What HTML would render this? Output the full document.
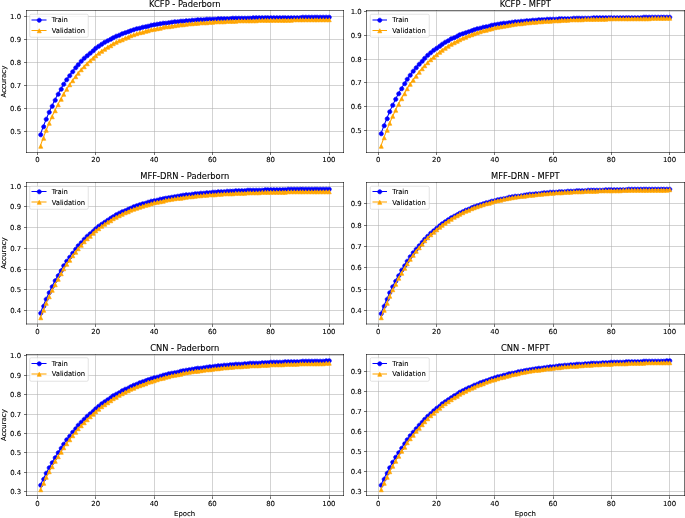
<!DOCTYPE html>
<html><head><meta charset="utf-8"><title>Accuracy curves</title>
<style>html,body{margin:0;padding:0;background:#fff}svg{display:block}</style></head>
<body>
<svg width="685" height="518" viewBox="0 0 1370 1036" font-family="'DejaVu Sans', 'Liberation Sans', sans-serif"><style>text{stroke:#000;stroke-width:0.2}</style>
<path d="M75 305L75 21" fill="none" stroke="#b0b0b0" stroke-width="1.11" stroke-linecap="square" stroke-linejoin="round"/>
<defs><path id="m1" d="M0 0L0 5" fill="#000000" stroke="#000000" stroke-width="1.11" stroke-linejoin="round"/></defs>
<g><use href="#m1" x="75" y="305"/></g>
<text x="70.51" y="324.42" font-size="13.89" fill="#000000">0</text>
<path d="M191 305L191 21" fill="none" stroke="#b0b0b0" stroke-width="1.11" stroke-linecap="square" stroke-linejoin="round"/>
<g><use href="#m1" x="191" y="305"/></g>
<text x="182.72" y="324.42" font-size="13.89" fill="#000000">20</text>
<path d="M309 305L309 21" fill="none" stroke="#b0b0b0" stroke-width="1.11" stroke-linecap="square" stroke-linejoin="round"/>
<g><use href="#m1" x="309" y="305"/></g>
<text x="299.3" y="324.42" font-size="13.89" fill="#000000">40</text>
<path d="M425 305L425 21" fill="none" stroke="#b0b0b0" stroke-width="1.11" stroke-linecap="square" stroke-linejoin="round"/>
<g><use href="#m1" x="425" y="305"/></g>
<text x="415.82" y="324.42" font-size="13.89" fill="#000000">60</text>
<path d="M541 305L541 21" fill="none" stroke="#b0b0b0" stroke-width="1.11" stroke-linecap="square" stroke-linejoin="round"/>
<g><use href="#m1" x="541" y="305"/></g>
<text x="532.41" y="324.42" font-size="13.89" fill="#000000">80</text>
<path d="M659 305L659 21" fill="none" stroke="#b0b0b0" stroke-width="1.11" stroke-linecap="square" stroke-linejoin="round"/>
<g><use href="#m1" x="659" y="305"/></g>
<text x="644.62" y="324.42" font-size="13.89" fill="#000000">100</text>
<path d="M53 263L687 263" fill="none" stroke="#b0b0b0" stroke-width="1.11" stroke-linecap="square" stroke-linejoin="round"/>
<defs><path id="m7" d="M0 0L-5 0" fill="#000000" stroke="#000000" stroke-width="1.11" stroke-linejoin="round"/></defs>
<g><use href="#m7" x="53" y="263"/></g>
<text x="20.26" y="268.52" font-size="13.89" fill="#000000">0.5</text>
<path d="M53 217L687 217" fill="none" stroke="#b0b0b0" stroke-width="1.11" stroke-linecap="square" stroke-linejoin="round"/>
<g><use href="#m7" x="53" y="217"/></g>
<text x="20.14" y="222.54" font-size="13.89" fill="#000000">0.6</text>
<path d="M53 171L687 171" fill="none" stroke="#b0b0b0" stroke-width="1.11" stroke-linecap="square" stroke-linejoin="round"/>
<g><use href="#m7" x="53" y="171"/></g>
<text x="20.26" y="176.56" font-size="13.89" fill="#000000">0.7</text>
<path d="M53 125L687 125" fill="none" stroke="#b0b0b0" stroke-width="1.11" stroke-linecap="square" stroke-linejoin="round"/>
<g><use href="#m7" x="53" y="125"/></g>
<text x="20.14" y="130.58" font-size="13.89" fill="#000000">0.8</text>
<path d="M53 79L687 79" fill="none" stroke="#b0b0b0" stroke-width="1.11" stroke-linecap="square" stroke-linejoin="round"/>
<g><use href="#m7" x="53" y="79"/></g>
<text x="20.14" y="84.6" font-size="13.89" fill="#000000">0.9</text>
<path d="M53 33L687 33" fill="none" stroke="#b0b0b0" stroke-width="1.11" stroke-linecap="square" stroke-linejoin="round"/>
<g><use href="#m7" x="53" y="33"/></g>
<text x="20.14" y="38.62" font-size="13.89" fill="#000000">1.0</text>
<text x="11.58" y="194.75" font-size="13.89" fill="#000000" transform="rotate(-90 11.58 194.75)">Accuracy</text>
<path d="M80.71 268.97L86.54 253.09L92.37 238.28L98.2 224.47L104.03 211.6L109.86 199.59L115.69 188.4L121.52 177.97L127.35 168.24L133.18 159.16L139.01 150.7L144.84 142.82L150.66 135.46L156.49 128.61L162.32 122.21L168.15 116.25L173.98 110.7L179.81 105.51L185.64 100.68L191.47 96.18L197.3 91.98L203.13 88.06L208.96 84.41L214.79 81L220.62 77.83L226.44 74.87L232.27 72.11L238.1 69.53L243.93 67.13L249.76 64.9L255.59 62.81L261.42 60.87L267.25 59.05L273.08 57.36L278.91 55.79L284.74 54.32L290.57 52.95L296.39 51.67L302.22 50.48L308.05 49.36L313.88 48.33L319.71 47.36L325.54 46.46L331.37 45.62L337.2 44.84L343.03 44.11L348.86 43.43L354.69 42.79L360.52 42.2L366.35 41.65L372.17 41.14L378 40.66L383.83 40.21L389.66 39.79L395.49 39.4L401.32 39.04L407.15 38.7L412.98 38.39L418.81 38.1L424.64 37.82L430.47 37.57L436.3 37.33L442.13 37.11L447.95 36.9L453.78 36.71L459.61 36.53L465.44 36.36L471.27 36.2L477.1 36.06L482.93 35.92L488.76 35.79L494.59 35.67L500.42 35.56L506.25 35.46L512.08 35.37L517.9 35.28L523.73 35.19L529.56 35.11L535.39 35.04L541.22 34.97L547.05 34.91L552.88 34.85L558.71 34.8L564.54 34.75L570.37 34.7L576.2 34.66L582.03 34.61L587.86 34.58L593.68 34.54L599.51 34.51L605.34 34.47L611.17 34.45L617 34.42L622.83 34.39L628.66 34.37L634.49 34.35L640.32 34.33L646.15 34.31L651.98 34.29L657.81 34.27" fill="none" stroke="#0000ff" stroke-width="2.08" stroke-linecap="square" stroke-linejoin="round"/>
<defs><path id="m13" d="M0 4.17C1.11 4.17 2.16 3.73 2.95 2.95C3.73 2.16 4.17 1.11 4.17 0C4.17 -1.11 3.73 -2.16 2.95 -2.95C2.16 -3.73 1.11 -4.17 0 -4.17C-1.11 -4.17 -2.16 -3.73 -2.95 -2.95C-3.73 -2.16 -4.17 -1.11 -4.17 0C-4.17 1.11 -3.73 2.16 -2.95 2.95C-2.16 3.73 -1.11 4.17 0 4.17Z" fill="#0000ff" stroke="#0000ff" stroke-width="1.39" stroke-linejoin="round"/></defs>
<g><use href="#m13" x="81.5" y="269.5"/><use href="#m13" x="87.5" y="253.5"/><use href="#m13" x="92.5" y="238.5"/><use href="#m13" x="98.5" y="224.5"/><use href="#m13" x="104.5" y="212.5"/><use href="#m13" x="110.5" y="200.5"/><use href="#m13" x="116.5" y="188.5"/><use href="#m13" x="122.5" y="178.5"/><use href="#m13" x="127.5" y="168.5"/><use href="#m13" x="133.5" y="159.5"/><use href="#m13" x="139.5" y="151.5"/><use href="#m13" x="145.5" y="143.5"/><use href="#m13" x="151.5" y="135.5"/><use href="#m13" x="156.5" y="129.5"/><use href="#m13" x="162.5" y="122.5"/><use href="#m13" x="168.5" y="116.5"/><use href="#m13" x="174.5" y="111.5"/><use href="#m13" x="180.5" y="106.5"/><use href="#m13" x="186.5" y="101.5"/><use href="#m13" x="191.5" y="96.5"/><use href="#m13" x="197.5" y="92.5"/><use href="#m13" x="203.5" y="88.5"/><use href="#m13" x="209.5" y="84.5"/><use href="#m13" x="215.5" y="81.5"/><use href="#m13" x="221.5" y="78.5"/><use href="#m13" x="226.5" y="75.5"/><use href="#m13" x="232.5" y="72.5"/><use href="#m13" x="238.5" y="70.5"/><use href="#m13" x="244.5" y="67.5"/><use href="#m13" x="250.5" y="65.5"/><use href="#m13" x="256.5" y="63.5"/><use href="#m13" x="261.5" y="61.5"/><use href="#m13" x="267.5" y="59.5"/><use href="#m13" x="273.5" y="57.5"/><use href="#m13" x="279.5" y="56.5"/><use href="#m13" x="285.5" y="54.5"/><use href="#m13" x="291.5" y="53.5"/><use href="#m13" x="296.5" y="52.5"/><use href="#m13" x="302.5" y="50.5"/><use href="#m13" x="308.5" y="49.5"/><use href="#m13" x="314.5" y="48.5"/><use href="#m13" x="320.5" y="47.5"/><use href="#m13" x="326.5" y="46.5"/><use href="#m13" x="331.5" y="46.5"/><use href="#m13" x="337.5" y="45.5"/><use href="#m13" x="343.5" y="44.5"/><use href="#m13" x="349.5" y="43.5"/><use href="#m13" x="355.5" y="43.5"/><use href="#m13" x="361.5" y="42.5"/><use href="#m13" x="366.5" y="42.5"/><use href="#m13" x="372.5" y="41.5"/><use href="#m13" x="378.5" y="41.5"/><use href="#m13" x="384.5" y="40.5"/><use href="#m13" x="390.5" y="40.5"/><use href="#m13" x="395.5" y="39.5"/><use href="#m13" x="401.5" y="39.5"/><use href="#m13" x="407.5" y="39.5"/><use href="#m13" x="413.5" y="38.5"/><use href="#m13" x="419.5" y="38.5"/><use href="#m13" x="425.5" y="38.5"/><use href="#m13" x="430.5" y="38.5"/><use href="#m13" x="436.5" y="37.5"/><use href="#m13" x="442.5" y="37.5"/><use href="#m13" x="448.5" y="37.5"/><use href="#m13" x="454.5" y="37.5"/><use href="#m13" x="460.5" y="37.5"/><use href="#m13" x="465.5" y="36.5"/><use href="#m13" x="471.5" y="36.5"/><use href="#m13" x="477.5" y="36.5"/><use href="#m13" x="483.5" y="36.5"/><use href="#m13" x="489.5" y="36.5"/><use href="#m13" x="495.5" y="36.5"/><use href="#m13" x="500.5" y="36.5"/><use href="#m13" x="506.5" y="35.5"/><use href="#m13" x="512.5" y="35.5"/><use href="#m13" x="518.5" y="35.5"/><use href="#m13" x="524.5" y="35.5"/><use href="#m13" x="530.5" y="35.5"/><use href="#m13" x="535.5" y="35.5"/><use href="#m13" x="541.5" y="35.5"/><use href="#m13" x="547.5" y="35.5"/><use href="#m13" x="553.5" y="35.5"/><use href="#m13" x="559.5" y="35.5"/><use href="#m13" x="565.5" y="35.5"/><use href="#m13" x="570.5" y="35.5"/><use href="#m13" x="576.5" y="35.5"/><use href="#m13" x="582.5" y="35.5"/><use href="#m13" x="588.5" y="35.5"/><use href="#m13" x="594.5" y="35.5"/><use href="#m13" x="600.5" y="35.5"/><use href="#m13" x="605.5" y="34.5"/><use href="#m13" x="611.5" y="34.5"/><use href="#m13" x="617.5" y="34.5"/><use href="#m13" x="623.5" y="34.5"/><use href="#m13" x="629.5" y="34.5"/><use href="#m13" x="634.5" y="34.5"/><use href="#m13" x="640.5" y="34.5"/><use href="#m13" x="646.5" y="34.5"/><use href="#m13" x="652.5" y="34.5"/><use href="#m13" x="658.5" y="34.5"/></g>
<path d="M80.71 291.73L86.54 275.56L92.37 260.43L98.2 246.27L104.03 233L109.86 220.59L115.69 208.97L121.52 198.09L127.35 187.91L133.18 178.37L139.01 169.45L144.84 161.09L150.66 153.27L156.49 145.95L162.32 139.1L168.15 132.68L173.98 126.68L179.81 121.05L185.64 115.79L191.47 110.86L197.3 106.25L203.13 101.93L208.96 97.89L214.79 94.1L220.62 90.56L226.44 87.25L232.27 84.14L238.1 81.24L243.93 78.52L249.76 75.97L255.59 73.58L261.42 71.35L267.25 69.26L273.08 67.31L278.91 65.48L284.74 63.76L290.57 62.16L296.39 60.66L302.22 59.25L308.05 57.93L313.88 56.7L319.71 55.55L325.54 54.47L331.37 53.46L337.2 52.51L343.03 51.62L348.86 50.8L354.69 50.02L360.52 49.29L366.35 48.61L372.17 47.98L378 47.38L383.83 46.82L389.66 46.3L395.49 45.81L401.32 45.35L407.15 44.92L412.98 44.52L418.81 44.15L424.64 43.79L430.47 43.47L436.3 43.16L442.13 42.87L447.95 42.6L453.78 42.35L459.61 42.11L465.44 41.89L471.27 41.68L477.1 41.49L482.93 41.3L488.76 41.13L494.59 40.98L500.42 40.83L506.25 40.69L512.08 40.56L517.9 40.43L523.73 40.32L529.56 40.21L535.39 40.11L541.22 40.02L547.05 39.93L552.88 39.85L558.71 39.77L564.54 39.7L570.37 39.63L576.2 39.57L582.03 39.51L587.86 39.45L593.68 39.4L599.51 39.35L605.34 39.31L611.17 39.26L617 39.22L622.83 39.19L628.66 39.15L634.49 39.12L640.32 39.09L646.15 39.06L651.98 39.03L657.81 39.01" fill="none" stroke="#ffa500" stroke-width="2.08" stroke-linecap="square" stroke-linejoin="round"/>
<defs><path id="m14" d="M0 -4L-4 4L4 4Z" fill="#ffa500" stroke="#ffa500" stroke-width="1.39"/></defs>
<g><use href="#m14" x="81.5" y="292.5"/><use href="#m14" x="87.5" y="276.5"/><use href="#m14" x="92.5" y="260.5"/><use href="#m14" x="98.5" y="246.5"/><use href="#m14" x="104.5" y="233.5"/><use href="#m14" x="110.5" y="221.5"/><use href="#m14" x="116.5" y="209.5"/><use href="#m14" x="122.5" y="198.5"/><use href="#m14" x="127.5" y="188.5"/><use href="#m14" x="133.5" y="178.5"/><use href="#m14" x="139.5" y="169.5"/><use href="#m14" x="145.5" y="161.5"/><use href="#m14" x="151.5" y="153.5"/><use href="#m14" x="156.5" y="146.5"/><use href="#m14" x="162.5" y="139.5"/><use href="#m14" x="168.5" y="133.5"/><use href="#m14" x="174.5" y="127.5"/><use href="#m14" x="180.5" y="121.5"/><use href="#m14" x="186.5" y="116.5"/><use href="#m14" x="191.5" y="111.5"/><use href="#m14" x="197.5" y="106.5"/><use href="#m14" x="203.5" y="102.5"/><use href="#m14" x="209.5" y="98.5"/><use href="#m14" x="215.5" y="94.5"/><use href="#m14" x="221.5" y="91.5"/><use href="#m14" x="226.5" y="87.5"/><use href="#m14" x="232.5" y="84.5"/><use href="#m14" x="238.5" y="81.5"/><use href="#m14" x="244.5" y="79.5"/><use href="#m14" x="250.5" y="76.5"/><use href="#m14" x="256.5" y="74.5"/><use href="#m14" x="261.5" y="71.5"/><use href="#m14" x="267.5" y="69.5"/><use href="#m14" x="273.5" y="67.5"/><use href="#m14" x="279.5" y="65.5"/><use href="#m14" x="285.5" y="64.5"/><use href="#m14" x="291.5" y="62.5"/><use href="#m14" x="296.5" y="61.5"/><use href="#m14" x="302.5" y="59.5"/><use href="#m14" x="308.5" y="58.5"/><use href="#m14" x="314.5" y="57.5"/><use href="#m14" x="320.5" y="56.5"/><use href="#m14" x="326.5" y="54.5"/><use href="#m14" x="331.5" y="53.5"/><use href="#m14" x="337.5" y="53.5"/><use href="#m14" x="343.5" y="52.5"/><use href="#m14" x="349.5" y="51.5"/><use href="#m14" x="355.5" y="50.5"/><use href="#m14" x="361.5" y="49.5"/><use href="#m14" x="366.5" y="49.5"/><use href="#m14" x="372.5" y="48.5"/><use href="#m14" x="378.5" y="47.5"/><use href="#m14" x="384.5" y="47.5"/><use href="#m14" x="390.5" y="46.5"/><use href="#m14" x="395.5" y="46.5"/><use href="#m14" x="401.5" y="45.5"/><use href="#m14" x="407.5" y="45.5"/><use href="#m14" x="413.5" y="45.5"/><use href="#m14" x="419.5" y="44.5"/><use href="#m14" x="425.5" y="44.5"/><use href="#m14" x="430.5" y="43.5"/><use href="#m14" x="436.5" y="43.5"/><use href="#m14" x="442.5" y="43.5"/><use href="#m14" x="448.5" y="43.5"/><use href="#m14" x="454.5" y="42.5"/><use href="#m14" x="460.5" y="42.5"/><use href="#m14" x="465.5" y="42.5"/><use href="#m14" x="471.5" y="42.5"/><use href="#m14" x="477.5" y="41.5"/><use href="#m14" x="483.5" y="41.5"/><use href="#m14" x="489.5" y="41.5"/><use href="#m14" x="495.5" y="41.5"/><use href="#m14" x="500.5" y="41.5"/><use href="#m14" x="506.5" y="41.5"/><use href="#m14" x="512.5" y="41.5"/><use href="#m14" x="518.5" y="40.5"/><use href="#m14" x="524.5" y="40.5"/><use href="#m14" x="530.5" y="40.5"/><use href="#m14" x="535.5" y="40.5"/><use href="#m14" x="541.5" y="40.5"/><use href="#m14" x="547.5" y="40.5"/><use href="#m14" x="553.5" y="40.5"/><use href="#m14" x="559.5" y="40.5"/><use href="#m14" x="565.5" y="40.5"/><use href="#m14" x="570.5" y="40.5"/><use href="#m14" x="576.5" y="40.5"/><use href="#m14" x="582.5" y="40.5"/><use href="#m14" x="588.5" y="39.5"/><use href="#m14" x="594.5" y="39.5"/><use href="#m14" x="600.5" y="39.5"/><use href="#m14" x="605.5" y="39.5"/><use href="#m14" x="611.5" y="39.5"/><use href="#m14" x="617.5" y="39.5"/><use href="#m14" x="623.5" y="39.5"/><use href="#m14" x="629.5" y="39.5"/><use href="#m14" x="634.5" y="39.5"/><use href="#m14" x="640.5" y="39.5"/><use href="#m14" x="646.5" y="39.5"/><use href="#m14" x="652.5" y="39.5"/><use href="#m14" x="658.5" y="39.5"/></g>
<path d="M53 305L53 21" fill="none" stroke="#000000" stroke-width="1.11" stroke-linecap="square"/>
<path d="M687 305L687 21" fill="none" stroke="#000000" stroke-width="1.11" stroke-linecap="square"/>
<path d="M53 305L687 305" fill="none" stroke="#000000" stroke-width="1.11" stroke-linecap="square"/>
<path d="M53 21L687 21" fill="none" stroke="#000000" stroke-width="1.11" stroke-linecap="square"/>
<text x="298.07" y="14.57" font-size="16.67" fill="#000000">KCFP - Paderborn</text>
<rect x="59.5" y="28.5" width="117" height="46" rx="2.78" fill="#ffffff" fill-opacity="0.8" stroke="#cccccc" stroke-width="1.39" stroke-opacity="0.8"/>
<path d="M64 40L78 40L92 40" fill="none" stroke="#0000ff" stroke-width="2.08" stroke-linecap="square" stroke-linejoin="round"/>
<g><use href="#m13" x="78.5" y="40.5"/></g>
<text x="103.25" y="44.9" font-size="13.89" fill="#000000" textLength="32.56" lengthAdjust="spacingAndGlyphs">Train</text>
<path d="M64 61L78 61L92 61" fill="none" stroke="#ffa500" stroke-width="2.08" stroke-linecap="square" stroke-linejoin="round"/>
<g><use href="#m14" x="78.5" y="61.5"/></g>
<text x="103.25" y="65.84" font-size="13.89" fill="#000000" textLength="66.95" lengthAdjust="spacingAndGlyphs">Validation</text>
<path d="M757 305L757 21" fill="none" stroke="#b0b0b0" stroke-width="1.11" stroke-linecap="square" stroke-linejoin="round"/>
<g><use href="#m1" x="757" y="305"/></g>
<text x="751.75" y="324.42" font-size="13.89" fill="#000000">0</text>
<path d="M873 305L873 21" fill="none" stroke="#b0b0b0" stroke-width="1.11" stroke-linecap="square" stroke-linejoin="round"/>
<g><use href="#m1" x="873" y="305"/></g>
<text x="863.96" y="324.42" font-size="13.89" fill="#000000">20</text>
<path d="M989 305L989 21" fill="none" stroke="#b0b0b0" stroke-width="1.11" stroke-linecap="square" stroke-linejoin="round"/>
<g><use href="#m1" x="989" y="305"/></g>
<text x="980.54" y="324.42" font-size="13.89" fill="#000000">40</text>
<path d="M1107 305L1107 21" fill="none" stroke="#b0b0b0" stroke-width="1.11" stroke-linecap="square" stroke-linejoin="round"/>
<g><use href="#m1" x="1107" y="305"/></g>
<text x="1097.06" y="324.42" font-size="13.89" fill="#000000">60</text>
<path d="M1223 305L1223 21" fill="none" stroke="#b0b0b0" stroke-width="1.11" stroke-linecap="square" stroke-linejoin="round"/>
<g><use href="#m1" x="1223" y="305"/></g>
<text x="1213.65" y="324.42" font-size="13.89" fill="#000000">80</text>
<path d="M1339 305L1339 21" fill="none" stroke="#b0b0b0" stroke-width="1.11" stroke-linecap="square" stroke-linejoin="round"/>
<g><use href="#m1" x="1339" y="305"/></g>
<text x="1325.86" y="324.42" font-size="13.89" fill="#000000">100</text>
<path d="M733 261L1369 261" fill="none" stroke="#b0b0b0" stroke-width="1.11" stroke-linecap="square" stroke-linejoin="round"/>
<g><use href="#m7" x="733" y="261"/></g>
<text x="701.5" y="265.82" font-size="13.89" fill="#000000">0.5</text>
<path d="M733 213L1369 213" fill="none" stroke="#b0b0b0" stroke-width="1.11" stroke-linecap="square" stroke-linejoin="round"/>
<g><use href="#m7" x="733" y="213"/></g>
<text x="701.38" y="218.38" font-size="13.89" fill="#000000">0.6</text>
<path d="M733 165L1369 165" fill="none" stroke="#b0b0b0" stroke-width="1.11" stroke-linecap="square" stroke-linejoin="round"/>
<g><use href="#m7" x="733" y="165"/></g>
<text x="701.5" y="170.94" font-size="13.89" fill="#000000">0.7</text>
<path d="M733 119L1369 119" fill="none" stroke="#b0b0b0" stroke-width="1.11" stroke-linecap="square" stroke-linejoin="round"/>
<g><use href="#m7" x="733" y="119"/></g>
<text x="701.38" y="123.51" font-size="13.89" fill="#000000">0.8</text>
<path d="M733 71L1369 71" fill="none" stroke="#b0b0b0" stroke-width="1.11" stroke-linecap="square" stroke-linejoin="round"/>
<g><use href="#m7" x="733" y="71"/></g>
<text x="701.38" y="76.07" font-size="13.89" fill="#000000">0.9</text>
<path d="M733 23L1369 23" fill="none" stroke="#b0b0b0" stroke-width="1.11" stroke-linecap="square" stroke-linejoin="round"/>
<g><use href="#m7" x="733" y="23"/></g>
<text x="701.38" y="28.63" font-size="13.89" fill="#000000">1.0</text>
<path d="M761.95 267.14L767.78 251.38L773.61 236.68L779.44 222.98L785.27 210.21L791.1 198.3L796.93 187.2L802.76 176.84L808.59 167.19L814.42 158.19L820.25 149.79L826.08 141.97L831.9 134.67L837.73 127.87L843.56 121.53L849.39 115.61L855.22 110.1L861.05 104.96L866.88 100.16L872.71 95.69L878.54 91.52L884.37 87.64L890.2 84.02L896.03 80.64L901.86 77.49L907.68 74.55L913.51 71.81L919.34 69.26L925.17 66.88L931 64.66L936.83 62.59L942.66 60.66L948.49 58.86L954.32 57.18L960.15 55.62L965.98 54.16L971.81 52.8L977.63 51.53L983.46 50.35L989.29 49.25L995.12 48.22L1000.95 47.26L1006.78 46.37L1012.61 45.53L1018.44 44.76L1024.27 44.03L1030.1 43.36L1035.93 42.73L1041.76 42.14L1047.59 41.59L1053.41 41.08L1059.24 40.61L1065.07 40.16L1070.9 39.75L1076.73 39.36L1082.56 39L1088.39 38.67L1094.22 38.36L1100.05 38.07L1105.88 37.79L1111.71 37.54L1117.54 37.3L1123.37 37.08L1129.19 36.88L1135.02 36.69L1140.85 36.51L1146.68 36.34L1152.51 36.19L1158.34 36.04L1164.17 35.91L1170 35.78L1175.83 35.66L1181.66 35.55L1187.49 35.45L1193.32 35.36L1199.14 35.27L1204.97 35.19L1210.8 35.11L1216.63 35.04L1222.46 34.97L1228.29 34.91L1234.12 34.85L1239.95 34.79L1245.78 34.74L1251.61 34.7L1257.44 34.65L1263.27 34.61L1269.1 34.57L1274.92 34.54L1280.75 34.5L1286.58 34.47L1292.41 34.44L1298.24 34.42L1304.07 34.39L1309.9 34.37L1315.73 34.35L1321.56 34.33L1327.39 34.31L1333.22 34.29L1339.05 34.27" fill="none" stroke="#0000ff" stroke-width="2.08" stroke-linecap="square" stroke-linejoin="round"/>
<g><use href="#m13" x="762.5" y="267.5"/><use href="#m13" x="768.5" y="251.5"/><use href="#m13" x="774.5" y="237.5"/><use href="#m13" x="779.5" y="223.5"/><use href="#m13" x="785.5" y="210.5"/><use href="#m13" x="791.5" y="198.5"/><use href="#m13" x="797.5" y="187.5"/><use href="#m13" x="803.5" y="177.5"/><use href="#m13" x="809.5" y="167.5"/><use href="#m13" x="814.5" y="158.5"/><use href="#m13" x="820.5" y="150.5"/><use href="#m13" x="826.5" y="142.5"/><use href="#m13" x="832.5" y="135.5"/><use href="#m13" x="838.5" y="128.5"/><use href="#m13" x="844.5" y="122.5"/><use href="#m13" x="849.5" y="116.5"/><use href="#m13" x="855.5" y="110.5"/><use href="#m13" x="861.5" y="105.5"/><use href="#m13" x="867.5" y="100.5"/><use href="#m13" x="873.5" y="96.5"/><use href="#m13" x="879.5" y="92.5"/><use href="#m13" x="884.5" y="88.5"/><use href="#m13" x="890.5" y="84.5"/><use href="#m13" x="896.5" y="81.5"/><use href="#m13" x="902.5" y="77.5"/><use href="#m13" x="908.5" y="75.5"/><use href="#m13" x="914.5" y="72.5"/><use href="#m13" x="919.5" y="69.5"/><use href="#m13" x="925.5" y="67.5"/><use href="#m13" x="931.5" y="65.5"/><use href="#m13" x="937.5" y="63.5"/><use href="#m13" x="943.5" y="61.5"/><use href="#m13" x="948.5" y="59.5"/><use href="#m13" x="954.5" y="57.5"/><use href="#m13" x="960.5" y="56.5"/><use href="#m13" x="966.5" y="54.5"/><use href="#m13" x="972.5" y="53.5"/><use href="#m13" x="978.5" y="52.5"/><use href="#m13" x="983.5" y="50.5"/><use href="#m13" x="989.5" y="49.5"/><use href="#m13" x="995.5" y="48.5"/><use href="#m13" x="1001.5" y="47.5"/><use href="#m13" x="1007.5" y="46.5"/><use href="#m13" x="1013.5" y="46.5"/><use href="#m13" x="1018.5" y="45.5"/><use href="#m13" x="1024.5" y="44.5"/><use href="#m13" x="1030.5" y="43.5"/><use href="#m13" x="1036.5" y="43.5"/><use href="#m13" x="1042.5" y="42.5"/><use href="#m13" x="1048.5" y="42.5"/><use href="#m13" x="1053.5" y="41.5"/><use href="#m13" x="1059.5" y="41.5"/><use href="#m13" x="1065.5" y="40.5"/><use href="#m13" x="1071.5" y="40.5"/><use href="#m13" x="1077.5" y="39.5"/><use href="#m13" x="1083.5" y="39.5"/><use href="#m13" x="1088.5" y="39.5"/><use href="#m13" x="1094.5" y="38.5"/><use href="#m13" x="1100.5" y="38.5"/><use href="#m13" x="1106.5" y="38.5"/><use href="#m13" x="1112.5" y="38.5"/><use href="#m13" x="1118.5" y="37.5"/><use href="#m13" x="1123.5" y="37.5"/><use href="#m13" x="1129.5" y="37.5"/><use href="#m13" x="1135.5" y="37.5"/><use href="#m13" x="1141.5" y="37.5"/><use href="#m13" x="1147.5" y="36.5"/><use href="#m13" x="1153.5" y="36.5"/><use href="#m13" x="1158.5" y="36.5"/><use href="#m13" x="1164.5" y="36.5"/><use href="#m13" x="1170.5" y="36.5"/><use href="#m13" x="1176.5" y="36.5"/><use href="#m13" x="1182.5" y="36.5"/><use href="#m13" x="1187.5" y="35.5"/><use href="#m13" x="1193.5" y="35.5"/><use href="#m13" x="1199.5" y="35.5"/><use href="#m13" x="1205.5" y="35.5"/><use href="#m13" x="1211.5" y="35.5"/><use href="#m13" x="1217.5" y="35.5"/><use href="#m13" x="1222.5" y="35.5"/><use href="#m13" x="1228.5" y="35.5"/><use href="#m13" x="1234.5" y="35.5"/><use href="#m13" x="1240.5" y="35.5"/><use href="#m13" x="1246.5" y="35.5"/><use href="#m13" x="1252.5" y="35.5"/><use href="#m13" x="1257.5" y="35.5"/><use href="#m13" x="1263.5" y="35.5"/><use href="#m13" x="1269.5" y="35.5"/><use href="#m13" x="1275.5" y="35.5"/><use href="#m13" x="1281.5" y="35.5"/><use href="#m13" x="1287.5" y="34.5"/><use href="#m13" x="1292.5" y="34.5"/><use href="#m13" x="1298.5" y="34.5"/><use href="#m13" x="1304.5" y="34.5"/><use href="#m13" x="1310.5" y="34.5"/><use href="#m13" x="1316.5" y="34.5"/><use href="#m13" x="1322.5" y="34.5"/><use href="#m13" x="1327.5" y="34.5"/><use href="#m13" x="1333.5" y="34.5"/><use href="#m13" x="1339.5" y="34.5"/></g>
<path d="M761.95 291.73L767.78 275.39L773.61 260.1L779.44 245.78L785.27 232.38L791.1 219.83L796.93 208.09L802.76 197.09L808.59 186.8L814.42 177.16L820.25 168.15L826.08 159.7L831.9 151.8L837.73 144.4L843.56 137.47L849.39 130.99L855.22 124.92L861.05 119.23L866.88 113.91L872.71 108.93L878.54 104.27L884.37 99.91L890.2 95.82L896.03 92L901.86 88.42L907.68 85.07L913.51 81.93L919.34 78.99L925.17 76.24L931 73.67L936.83 71.26L942.66 69L948.49 66.89L954.32 64.91L960.15 63.06L965.98 61.33L971.81 59.71L977.63 58.19L983.46 56.77L989.29 55.44L995.12 54.2L1000.95 53.03L1006.78 51.94L1012.61 50.92L1018.44 49.96L1024.27 49.06L1030.1 48.23L1035.93 47.44L1041.76 46.71L1047.59 46.02L1053.41 45.38L1059.24 44.77L1065.07 44.21L1070.9 43.68L1076.73 43.19L1082.56 42.72L1088.39 42.29L1094.22 41.89L1100.05 41.51L1105.88 41.15L1111.71 40.82L1117.54 40.51L1123.37 40.22L1129.19 39.94L1135.02 39.69L1140.85 39.45L1146.68 39.22L1152.51 39.01L1158.34 38.82L1164.17 38.63L1170 38.46L1175.83 38.3L1181.66 38.15L1187.49 38.01L1193.32 37.88L1199.14 37.75L1204.97 37.64L1210.8 37.53L1216.63 37.43L1222.46 37.33L1228.29 37.24L1234.12 37.16L1239.95 37.08L1245.78 37.01L1251.61 36.94L1257.44 36.88L1263.27 36.82L1269.1 36.76L1274.92 36.71L1280.75 36.66L1286.58 36.62L1292.41 36.57L1298.24 36.53L1304.07 36.49L1309.9 36.46L1315.73 36.43L1321.56 36.4L1327.39 36.37L1333.22 36.34L1339.05 36.31" fill="none" stroke="#ffa500" stroke-width="2.08" stroke-linecap="square" stroke-linejoin="round"/>
<g><use href="#m14" x="762.5" y="292.5"/><use href="#m14" x="768.5" y="275.5"/><use href="#m14" x="774.5" y="260.5"/><use href="#m14" x="779.5" y="246.5"/><use href="#m14" x="785.5" y="232.5"/><use href="#m14" x="791.5" y="220.5"/><use href="#m14" x="797.5" y="208.5"/><use href="#m14" x="803.5" y="197.5"/><use href="#m14" x="809.5" y="187.5"/><use href="#m14" x="814.5" y="177.5"/><use href="#m14" x="820.5" y="168.5"/><use href="#m14" x="826.5" y="160.5"/><use href="#m14" x="832.5" y="152.5"/><use href="#m14" x="838.5" y="144.5"/><use href="#m14" x="844.5" y="137.5"/><use href="#m14" x="849.5" y="131.5"/><use href="#m14" x="855.5" y="125.5"/><use href="#m14" x="861.5" y="119.5"/><use href="#m14" x="867.5" y="114.5"/><use href="#m14" x="873.5" y="109.5"/><use href="#m14" x="879.5" y="104.5"/><use href="#m14" x="884.5" y="100.5"/><use href="#m14" x="890.5" y="96.5"/><use href="#m14" x="896.5" y="92.5"/><use href="#m14" x="902.5" y="88.5"/><use href="#m14" x="908.5" y="85.5"/><use href="#m14" x="914.5" y="82.5"/><use href="#m14" x="919.5" y="79.5"/><use href="#m14" x="925.5" y="76.5"/><use href="#m14" x="931.5" y="74.5"/><use href="#m14" x="937.5" y="71.5"/><use href="#m14" x="943.5" y="69.5"/><use href="#m14" x="948.5" y="67.5"/><use href="#m14" x="954.5" y="65.5"/><use href="#m14" x="960.5" y="63.5"/><use href="#m14" x="966.5" y="61.5"/><use href="#m14" x="972.5" y="60.5"/><use href="#m14" x="978.5" y="58.5"/><use href="#m14" x="983.5" y="57.5"/><use href="#m14" x="989.5" y="55.5"/><use href="#m14" x="995.5" y="54.5"/><use href="#m14" x="1001.5" y="53.5"/><use href="#m14" x="1007.5" y="52.5"/><use href="#m14" x="1013.5" y="51.5"/><use href="#m14" x="1018.5" y="50.5"/><use href="#m14" x="1024.5" y="49.5"/><use href="#m14" x="1030.5" y="48.5"/><use href="#m14" x="1036.5" y="47.5"/><use href="#m14" x="1042.5" y="47.5"/><use href="#m14" x="1048.5" y="46.5"/><use href="#m14" x="1053.5" y="45.5"/><use href="#m14" x="1059.5" y="45.5"/><use href="#m14" x="1065.5" y="44.5"/><use href="#m14" x="1071.5" y="44.5"/><use href="#m14" x="1077.5" y="43.5"/><use href="#m14" x="1083.5" y="43.5"/><use href="#m14" x="1088.5" y="42.5"/><use href="#m14" x="1094.5" y="42.5"/><use href="#m14" x="1100.5" y="42.5"/><use href="#m14" x="1106.5" y="41.5"/><use href="#m14" x="1112.5" y="41.5"/><use href="#m14" x="1118.5" y="41.5"/><use href="#m14" x="1123.5" y="40.5"/><use href="#m14" x="1129.5" y="40.5"/><use href="#m14" x="1135.5" y="40.5"/><use href="#m14" x="1141.5" y="39.5"/><use href="#m14" x="1147.5" y="39.5"/><use href="#m14" x="1153.5" y="39.5"/><use href="#m14" x="1158.5" y="39.5"/><use href="#m14" x="1164.5" y="39.5"/><use href="#m14" x="1170.5" y="38.5"/><use href="#m14" x="1176.5" y="38.5"/><use href="#m14" x="1182.5" y="38.5"/><use href="#m14" x="1187.5" y="38.5"/><use href="#m14" x="1193.5" y="38.5"/><use href="#m14" x="1199.5" y="38.5"/><use href="#m14" x="1205.5" y="38.5"/><use href="#m14" x="1211.5" y="38.5"/><use href="#m14" x="1217.5" y="37.5"/><use href="#m14" x="1222.5" y="37.5"/><use href="#m14" x="1228.5" y="37.5"/><use href="#m14" x="1234.5" y="37.5"/><use href="#m14" x="1240.5" y="37.5"/><use href="#m14" x="1246.5" y="37.5"/><use href="#m14" x="1252.5" y="37.5"/><use href="#m14" x="1257.5" y="37.5"/><use href="#m14" x="1263.5" y="37.5"/><use href="#m14" x="1269.5" y="37.5"/><use href="#m14" x="1275.5" y="37.5"/><use href="#m14" x="1281.5" y="37.5"/><use href="#m14" x="1287.5" y="37.5"/><use href="#m14" x="1292.5" y="37.5"/><use href="#m14" x="1298.5" y="37.5"/><use href="#m14" x="1304.5" y="36.5"/><use href="#m14" x="1310.5" y="36.5"/><use href="#m14" x="1316.5" y="36.5"/><use href="#m14" x="1322.5" y="36.5"/><use href="#m14" x="1327.5" y="36.5"/><use href="#m14" x="1333.5" y="36.5"/><use href="#m14" x="1339.5" y="36.5"/></g>
<path d="M733 305L733 21" fill="none" stroke="#000000" stroke-width="1.11" stroke-linecap="square"/>
<path d="M1369 305L1369 21" fill="none" stroke="#000000" stroke-width="1.11" stroke-linecap="square"/>
<path d="M733 305L1369 305" fill="none" stroke="#000000" stroke-width="1.11" stroke-linecap="square"/>
<path d="M733 21L1369 21" fill="none" stroke="#000000" stroke-width="1.11" stroke-linecap="square"/>
<text x="999.62" y="14.57" font-size="16.67" fill="#000000">KCFP - MFPT</text>
<rect x="740.5" y="28.5" width="118" height="46" rx="2.78" fill="#ffffff" fill-opacity="0.8" stroke="#cccccc" stroke-width="1.39" stroke-opacity="0.8"/>
<path d="M746 40L759 40L773 40" fill="none" stroke="#0000ff" stroke-width="2.08" stroke-linecap="square" stroke-linejoin="round"/>
<g><use href="#m13" x="759.5" y="40.5"/></g>
<text x="784.49" y="44.9" font-size="13.89" fill="#000000" textLength="32.56" lengthAdjust="spacingAndGlyphs">Train</text>
<path d="M746 61L759 61L773 61" fill="none" stroke="#ffa500" stroke-width="2.08" stroke-linecap="square" stroke-linejoin="round"/>
<g><use href="#m14" x="759.5" y="61.5"/></g>
<text x="784.49" y="65.84" font-size="13.89" fill="#000000" textLength="66.95" lengthAdjust="spacingAndGlyphs">Validation</text>
<path d="M75 649L75 365" fill="none" stroke="#b0b0b0" stroke-width="1.11" stroke-linecap="square" stroke-linejoin="round"/>
<g><use href="#m1" x="75" y="649"/></g>
<text x="70.51" y="668.68" font-size="13.89" fill="#000000">0</text>
<path d="M191 649L191 365" fill="none" stroke="#b0b0b0" stroke-width="1.11" stroke-linecap="square" stroke-linejoin="round"/>
<g><use href="#m1" x="191" y="649"/></g>
<text x="182.72" y="668.68" font-size="13.89" fill="#000000">20</text>
<path d="M309 649L309 365" fill="none" stroke="#b0b0b0" stroke-width="1.11" stroke-linecap="square" stroke-linejoin="round"/>
<g><use href="#m1" x="309" y="649"/></g>
<text x="299.3" y="668.68" font-size="13.89" fill="#000000">40</text>
<path d="M425 649L425 365" fill="none" stroke="#b0b0b0" stroke-width="1.11" stroke-linecap="square" stroke-linejoin="round"/>
<g><use href="#m1" x="425" y="649"/></g>
<text x="415.82" y="668.68" font-size="13.89" fill="#000000">60</text>
<path d="M541 649L541 365" fill="none" stroke="#b0b0b0" stroke-width="1.11" stroke-linecap="square" stroke-linejoin="round"/>
<g><use href="#m1" x="541" y="649"/></g>
<text x="532.41" y="668.68" font-size="13.89" fill="#000000">80</text>
<path d="M659 649L659 365" fill="none" stroke="#b0b0b0" stroke-width="1.11" stroke-linecap="square" stroke-linejoin="round"/>
<g><use href="#m1" x="659" y="649"/></g>
<text x="644.62" y="668.68" font-size="13.89" fill="#000000">100</text>
<path d="M53 621L687 621" fill="none" stroke="#b0b0b0" stroke-width="1.11" stroke-linecap="square" stroke-linejoin="round"/>
<g><use href="#m7" x="53" y="621"/></g>
<text x="20.26" y="626.2" font-size="13.89" fill="#000000">0.4</text>
<path d="M53 579L687 579" fill="none" stroke="#b0b0b0" stroke-width="1.11" stroke-linecap="square" stroke-linejoin="round"/>
<g><use href="#m7" x="53" y="579"/></g>
<text x="20.26" y="584.7" font-size="13.89" fill="#000000">0.5</text>
<path d="M53 539L687 539" fill="none" stroke="#b0b0b0" stroke-width="1.11" stroke-linecap="square" stroke-linejoin="round"/>
<g><use href="#m7" x="53" y="539"/></g>
<text x="20.14" y="543.19" font-size="13.89" fill="#000000">0.6</text>
<path d="M53 497L687 497" fill="none" stroke="#b0b0b0" stroke-width="1.11" stroke-linecap="square" stroke-linejoin="round"/>
<g><use href="#m7" x="53" y="497"/></g>
<text x="20.26" y="501.68" font-size="13.89" fill="#000000">0.7</text>
<path d="M53 455L687 455" fill="none" stroke="#b0b0b0" stroke-width="1.11" stroke-linecap="square" stroke-linejoin="round"/>
<g><use href="#m7" x="53" y="455"/></g>
<text x="20.14" y="460.18" font-size="13.89" fill="#000000">0.8</text>
<path d="M53 413L687 413" fill="none" stroke="#b0b0b0" stroke-width="1.11" stroke-linecap="square" stroke-linejoin="round"/>
<g><use href="#m7" x="53" y="413"/></g>
<text x="20.14" y="418.67" font-size="13.89" fill="#000000">0.9</text>
<path d="M53 373L687 373" fill="none" stroke="#b0b0b0" stroke-width="1.11" stroke-linecap="square" stroke-linejoin="round"/>
<g><use href="#m7" x="53" y="373"/></g>
<text x="20.14" y="377.16" font-size="13.89" fill="#000000">1.0</text>
<text x="11.58" y="538.11" font-size="13.89" fill="#000000" transform="rotate(-90 11.58 538.11)">Accuracy</text>
<path d="M80.71 626.05L86.54 611.55L92.37 597.89L98.2 585.02L104.03 572.91L109.86 561.5L115.69 550.75L121.52 540.63L127.35 531.1L133.18 522.13L139.01 513.67L144.84 505.71L150.66 498.22L156.49 491.16L162.32 484.51L168.15 478.24L173.98 472.35L179.81 466.79L185.64 461.56L191.47 456.64L197.3 452L203.13 447.63L208.96 443.51L214.79 439.64L220.62 435.99L226.44 432.55L232.27 429.32L238.1 426.27L243.93 423.4L249.76 420.7L255.59 418.15L261.42 415.75L267.25 413.49L273.08 411.37L278.91 409.36L284.74 407.48L290.57 405.7L296.39 404.03L302.22 402.45L308.05 400.97L313.88 399.57L319.71 398.26L325.54 397.02L331.37 395.85L337.2 394.75L343.03 393.72L348.86 392.74L354.69 391.82L360.52 390.96L366.35 390.14L372.17 389.38L378 388.66L383.83 387.98L389.66 387.34L395.49 386.73L401.32 386.16L407.15 385.63L412.98 385.13L418.81 384.65L424.64 384.2L430.47 383.78L436.3 383.39L442.13 383.01L447.95 382.66L453.78 382.33L459.61 382.02L465.44 381.73L471.27 381.45L477.1 381.19L482.93 380.94L488.76 380.71L494.59 380.49L500.42 380.29L506.25 380.1L512.08 379.92L517.9 379.74L523.73 379.58L529.56 379.43L535.39 379.29L541.22 379.15L547.05 379.03L552.88 378.91L558.71 378.8L564.54 378.69L570.37 378.59L576.2 378.5L582.03 378.41L587.86 378.32L593.68 378.25L599.51 378.17L605.34 378.1L611.17 378.04L617 377.97L622.83 377.92L628.66 377.86L634.49 377.81L640.32 377.76L646.15 377.72L651.98 377.67L657.81 377.63" fill="none" stroke="#0000ff" stroke-width="2.08" stroke-linecap="square" stroke-linejoin="round"/>
<g><use href="#m13" x="81.5" y="626.5"/><use href="#m13" x="87.5" y="612.5"/><use href="#m13" x="92.5" y="598.5"/><use href="#m13" x="98.5" y="585.5"/><use href="#m13" x="104.5" y="573.5"/><use href="#m13" x="110.5" y="561.5"/><use href="#m13" x="116.5" y="551.5"/><use href="#m13" x="122.5" y="541.5"/><use href="#m13" x="127.5" y="531.5"/><use href="#m13" x="133.5" y="522.5"/><use href="#m13" x="139.5" y="514.5"/><use href="#m13" x="145.5" y="506.5"/><use href="#m13" x="151.5" y="498.5"/><use href="#m13" x="156.5" y="491.5"/><use href="#m13" x="162.5" y="485.5"/><use href="#m13" x="168.5" y="478.5"/><use href="#m13" x="174.5" y="472.5"/><use href="#m13" x="180.5" y="467.5"/><use href="#m13" x="186.5" y="462.5"/><use href="#m13" x="191.5" y="457.5"/><use href="#m13" x="197.5" y="452.5"/><use href="#m13" x="203.5" y="448.5"/><use href="#m13" x="209.5" y="444.5"/><use href="#m13" x="215.5" y="440.5"/><use href="#m13" x="221.5" y="436.5"/><use href="#m13" x="226.5" y="433.5"/><use href="#m13" x="232.5" y="429.5"/><use href="#m13" x="238.5" y="426.5"/><use href="#m13" x="244.5" y="423.5"/><use href="#m13" x="250.5" y="421.5"/><use href="#m13" x="256.5" y="418.5"/><use href="#m13" x="261.5" y="416.5"/><use href="#m13" x="267.5" y="413.5"/><use href="#m13" x="273.5" y="411.5"/><use href="#m13" x="279.5" y="409.5"/><use href="#m13" x="285.5" y="407.5"/><use href="#m13" x="291.5" y="406.5"/><use href="#m13" x="296.5" y="404.5"/><use href="#m13" x="302.5" y="402.5"/><use href="#m13" x="308.5" y="401.5"/><use href="#m13" x="314.5" y="400.5"/><use href="#m13" x="320.5" y="398.5"/><use href="#m13" x="326.5" y="397.5"/><use href="#m13" x="331.5" y="396.5"/><use href="#m13" x="337.5" y="395.5"/><use href="#m13" x="343.5" y="394.5"/><use href="#m13" x="349.5" y="393.5"/><use href="#m13" x="355.5" y="392.5"/><use href="#m13" x="361.5" y="391.5"/><use href="#m13" x="366.5" y="390.5"/><use href="#m13" x="372.5" y="389.5"/><use href="#m13" x="378.5" y="389.5"/><use href="#m13" x="384.5" y="388.5"/><use href="#m13" x="390.5" y="387.5"/><use href="#m13" x="395.5" y="387.5"/><use href="#m13" x="401.5" y="386.5"/><use href="#m13" x="407.5" y="386.5"/><use href="#m13" x="413.5" y="385.5"/><use href="#m13" x="419.5" y="385.5"/><use href="#m13" x="425.5" y="384.5"/><use href="#m13" x="430.5" y="384.5"/><use href="#m13" x="436.5" y="383.5"/><use href="#m13" x="442.5" y="383.5"/><use href="#m13" x="448.5" y="383.5"/><use href="#m13" x="454.5" y="382.5"/><use href="#m13" x="460.5" y="382.5"/><use href="#m13" x="465.5" y="382.5"/><use href="#m13" x="471.5" y="381.5"/><use href="#m13" x="477.5" y="381.5"/><use href="#m13" x="483.5" y="381.5"/><use href="#m13" x="489.5" y="381.5"/><use href="#m13" x="495.5" y="380.5"/><use href="#m13" x="500.5" y="380.5"/><use href="#m13" x="506.5" y="380.5"/><use href="#m13" x="512.5" y="380.5"/><use href="#m13" x="518.5" y="380.5"/><use href="#m13" x="524.5" y="380.5"/><use href="#m13" x="530.5" y="379.5"/><use href="#m13" x="535.5" y="379.5"/><use href="#m13" x="541.5" y="379.5"/><use href="#m13" x="547.5" y="379.5"/><use href="#m13" x="553.5" y="379.5"/><use href="#m13" x="559.5" y="379.5"/><use href="#m13" x="565.5" y="379.5"/><use href="#m13" x="570.5" y="379.5"/><use href="#m13" x="576.5" y="378.5"/><use href="#m13" x="582.5" y="378.5"/><use href="#m13" x="588.5" y="378.5"/><use href="#m13" x="594.5" y="378.5"/><use href="#m13" x="600.5" y="378.5"/><use href="#m13" x="605.5" y="378.5"/><use href="#m13" x="611.5" y="378.5"/><use href="#m13" x="617.5" y="378.5"/><use href="#m13" x="623.5" y="378.5"/><use href="#m13" x="629.5" y="378.5"/><use href="#m13" x="634.5" y="378.5"/><use href="#m13" x="640.5" y="378.5"/><use href="#m13" x="646.5" y="378.5"/><use href="#m13" x="652.5" y="378.5"/><use href="#m13" x="658.5" y="378.5"/></g>
<path d="M80.71 635.09L86.54 620.11L92.37 606.02L98.2 592.77L104.03 580.3L109.86 568.57L115.69 557.53L121.52 547.14L127.35 537.37L133.18 528.18L139.01 519.53L144.84 511.4L150.66 503.74L156.49 496.54L162.32 489.76L168.15 483.39L173.98 477.39L179.81 471.75L185.64 466.44L191.47 461.45L197.3 456.75L203.13 452.33L208.96 448.17L214.79 444.25L220.62 440.57L226.44 437.11L232.27 433.85L238.1 430.78L243.93 427.9L249.76 425.19L255.59 422.63L261.42 420.23L267.25 417.97L273.08 415.84L278.91 413.84L284.74 411.96L290.57 410.19L296.39 408.53L302.22 406.96L308.05 405.48L313.88 404.1L319.71 402.79L325.54 401.56L331.37 400.41L337.2 399.32L343.03 398.3L348.86 397.34L354.69 396.43L360.52 395.58L366.35 394.78L372.17 394.02L378 393.32L383.83 392.65L389.66 392.02L395.49 391.43L401.32 390.87L407.15 390.35L412.98 389.86L418.81 389.4L424.64 388.96L430.47 388.55L436.3 388.17L442.13 387.8L447.95 387.46L453.78 387.14L459.61 386.84L465.44 386.56L471.27 386.29L477.1 386.04L482.93 385.8L488.76 385.58L494.59 385.37L500.42 385.17L506.25 384.99L512.08 384.81L517.9 384.65L523.73 384.49L529.56 384.35L535.39 384.21L541.22 384.08L547.05 383.96L552.88 383.85L558.71 383.74L564.54 383.64L570.37 383.55L576.2 383.46L582.03 383.37L587.86 383.3L593.68 383.22L599.51 383.15L605.34 383.09L611.17 383.02L617 382.97L622.83 382.91L628.66 382.86L634.49 382.81L640.32 382.77L646.15 382.72L651.98 382.68L657.81 382.64" fill="none" stroke="#ffa500" stroke-width="2.08" stroke-linecap="square" stroke-linejoin="round"/>
<g><use href="#m14" x="81.5" y="635.5"/><use href="#m14" x="87.5" y="620.5"/><use href="#m14" x="92.5" y="606.5"/><use href="#m14" x="98.5" y="593.5"/><use href="#m14" x="104.5" y="580.5"/><use href="#m14" x="110.5" y="569.5"/><use href="#m14" x="116.5" y="558.5"/><use href="#m14" x="122.5" y="547.5"/><use href="#m14" x="127.5" y="537.5"/><use href="#m14" x="133.5" y="528.5"/><use href="#m14" x="139.5" y="520.5"/><use href="#m14" x="145.5" y="511.5"/><use href="#m14" x="151.5" y="504.5"/><use href="#m14" x="156.5" y="497.5"/><use href="#m14" x="162.5" y="490.5"/><use href="#m14" x="168.5" y="483.5"/><use href="#m14" x="174.5" y="477.5"/><use href="#m14" x="180.5" y="472.5"/><use href="#m14" x="186.5" y="466.5"/><use href="#m14" x="191.5" y="461.5"/><use href="#m14" x="197.5" y="457.5"/><use href="#m14" x="203.5" y="452.5"/><use href="#m14" x="209.5" y="448.5"/><use href="#m14" x="215.5" y="444.5"/><use href="#m14" x="221.5" y="441.5"/><use href="#m14" x="226.5" y="437.5"/><use href="#m14" x="232.5" y="434.5"/><use href="#m14" x="238.5" y="431.5"/><use href="#m14" x="244.5" y="428.5"/><use href="#m14" x="250.5" y="425.5"/><use href="#m14" x="256.5" y="423.5"/><use href="#m14" x="261.5" y="420.5"/><use href="#m14" x="267.5" y="418.5"/><use href="#m14" x="273.5" y="416.5"/><use href="#m14" x="279.5" y="414.5"/><use href="#m14" x="285.5" y="412.5"/><use href="#m14" x="291.5" y="410.5"/><use href="#m14" x="296.5" y="409.5"/><use href="#m14" x="302.5" y="407.5"/><use href="#m14" x="308.5" y="405.5"/><use href="#m14" x="314.5" y="404.5"/><use href="#m14" x="320.5" y="403.5"/><use href="#m14" x="326.5" y="402.5"/><use href="#m14" x="331.5" y="400.5"/><use href="#m14" x="337.5" y="399.5"/><use href="#m14" x="343.5" y="398.5"/><use href="#m14" x="349.5" y="397.5"/><use href="#m14" x="355.5" y="396.5"/><use href="#m14" x="361.5" y="396.5"/><use href="#m14" x="366.5" y="395.5"/><use href="#m14" x="372.5" y="394.5"/><use href="#m14" x="378.5" y="393.5"/><use href="#m14" x="384.5" y="393.5"/><use href="#m14" x="390.5" y="392.5"/><use href="#m14" x="395.5" y="391.5"/><use href="#m14" x="401.5" y="391.5"/><use href="#m14" x="407.5" y="390.5"/><use href="#m14" x="413.5" y="390.5"/><use href="#m14" x="419.5" y="389.5"/><use href="#m14" x="425.5" y="389.5"/><use href="#m14" x="430.5" y="389.5"/><use href="#m14" x="436.5" y="388.5"/><use href="#m14" x="442.5" y="388.5"/><use href="#m14" x="448.5" y="387.5"/><use href="#m14" x="454.5" y="387.5"/><use href="#m14" x="460.5" y="387.5"/><use href="#m14" x="465.5" y="387.5"/><use href="#m14" x="471.5" y="386.5"/><use href="#m14" x="477.5" y="386.5"/><use href="#m14" x="483.5" y="386.5"/><use href="#m14" x="489.5" y="386.5"/><use href="#m14" x="495.5" y="385.5"/><use href="#m14" x="500.5" y="385.5"/><use href="#m14" x="506.5" y="385.5"/><use href="#m14" x="512.5" y="385.5"/><use href="#m14" x="518.5" y="385.5"/><use href="#m14" x="524.5" y="384.5"/><use href="#m14" x="530.5" y="384.5"/><use href="#m14" x="535.5" y="384.5"/><use href="#m14" x="541.5" y="384.5"/><use href="#m14" x="547.5" y="384.5"/><use href="#m14" x="553.5" y="384.5"/><use href="#m14" x="559.5" y="384.5"/><use href="#m14" x="565.5" y="384.5"/><use href="#m14" x="570.5" y="384.5"/><use href="#m14" x="576.5" y="383.5"/><use href="#m14" x="582.5" y="383.5"/><use href="#m14" x="588.5" y="383.5"/><use href="#m14" x="594.5" y="383.5"/><use href="#m14" x="600.5" y="383.5"/><use href="#m14" x="605.5" y="383.5"/><use href="#m14" x="611.5" y="383.5"/><use href="#m14" x="617.5" y="383.5"/><use href="#m14" x="623.5" y="383.5"/><use href="#m14" x="629.5" y="383.5"/><use href="#m14" x="634.5" y="383.5"/><use href="#m14" x="640.5" y="383.5"/><use href="#m14" x="646.5" y="383.5"/><use href="#m14" x="652.5" y="383.5"/><use href="#m14" x="658.5" y="383.5"/></g>
<path d="M53 648L53 365" fill="none" stroke="#000000" stroke-width="1.11" stroke-linecap="square"/>
<path d="M687 648L687 365" fill="none" stroke="#000000" stroke-width="1.11" stroke-linecap="square"/>
<path d="M53 648L687 648" fill="none" stroke="#000000" stroke-width="1.11" stroke-linecap="square"/>
<path d="M53 365L687 365" fill="none" stroke="#000000" stroke-width="1.11" stroke-linecap="square"/>
<text x="280.51" y="357.93" font-size="16.67" fill="#000000">MFF-DRN - Paderborn</text>
<rect x="59.5" y="372.5" width="117" height="46" rx="2.78" fill="#ffffff" fill-opacity="0.8" stroke="#cccccc" stroke-width="1.39" stroke-opacity="0.8"/>
<path d="M64 383L78 383L92 383" fill="none" stroke="#0000ff" stroke-width="2.08" stroke-linecap="square" stroke-linejoin="round"/>
<g><use href="#m13" x="78.5" y="383.5"/></g>
<text x="103.25" y="388.26" font-size="13.89" fill="#000000" textLength="32.56" lengthAdjust="spacingAndGlyphs">Train</text>
<path d="M64 404L78 404L92 404" fill="none" stroke="#ffa500" stroke-width="2.08" stroke-linecap="square" stroke-linejoin="round"/>
<g><use href="#m14" x="78.5" y="404.5"/></g>
<text x="103.25" y="409.2" font-size="13.89" fill="#000000" textLength="66.95" lengthAdjust="spacingAndGlyphs">Validation</text>
<path d="M757 649L757 365" fill="none" stroke="#b0b0b0" stroke-width="1.11" stroke-linecap="square" stroke-linejoin="round"/>
<g><use href="#m1" x="757" y="649"/></g>
<text x="751.75" y="668.68" font-size="13.89" fill="#000000">0</text>
<path d="M873 649L873 365" fill="none" stroke="#b0b0b0" stroke-width="1.11" stroke-linecap="square" stroke-linejoin="round"/>
<g><use href="#m1" x="873" y="649"/></g>
<text x="863.96" y="668.68" font-size="13.89" fill="#000000">20</text>
<path d="M989 649L989 365" fill="none" stroke="#b0b0b0" stroke-width="1.11" stroke-linecap="square" stroke-linejoin="round"/>
<g><use href="#m1" x="989" y="649"/></g>
<text x="980.54" y="668.68" font-size="13.89" fill="#000000">40</text>
<path d="M1107 649L1107 365" fill="none" stroke="#b0b0b0" stroke-width="1.11" stroke-linecap="square" stroke-linejoin="round"/>
<g><use href="#m1" x="1107" y="649"/></g>
<text x="1097.06" y="668.68" font-size="13.89" fill="#000000">60</text>
<path d="M1223 649L1223 365" fill="none" stroke="#b0b0b0" stroke-width="1.11" stroke-linecap="square" stroke-linejoin="round"/>
<g><use href="#m1" x="1223" y="649"/></g>
<text x="1213.65" y="668.68" font-size="13.89" fill="#000000">80</text>
<path d="M1339 649L1339 365" fill="none" stroke="#b0b0b0" stroke-width="1.11" stroke-linecap="square" stroke-linejoin="round"/>
<g><use href="#m1" x="1339" y="649"/></g>
<text x="1325.86" y="668.68" font-size="13.89" fill="#000000">100</text>
<path d="M733 621L1369 621" fill="none" stroke="#b0b0b0" stroke-width="1.11" stroke-linecap="square" stroke-linejoin="round"/>
<g><use href="#m7" x="733" y="621"/></g>
<text x="701.5" y="626.37" font-size="13.89" fill="#000000">0.4</text>
<path d="M733 579L1369 579" fill="none" stroke="#b0b0b0" stroke-width="1.11" stroke-linecap="square" stroke-linejoin="round"/>
<g><use href="#m7" x="733" y="579"/></g>
<text x="701.5" y="583.58" font-size="13.89" fill="#000000">0.5</text>
<path d="M733 535L1369 535" fill="none" stroke="#b0b0b0" stroke-width="1.11" stroke-linecap="square" stroke-linejoin="round"/>
<g><use href="#m7" x="733" y="535"/></g>
<text x="701.38" y="540.79" font-size="13.89" fill="#000000">0.6</text>
<path d="M733 493L1369 493" fill="none" stroke="#b0b0b0" stroke-width="1.11" stroke-linecap="square" stroke-linejoin="round"/>
<g><use href="#m7" x="733" y="493"/></g>
<text x="701.5" y="498" font-size="13.89" fill="#000000">0.7</text>
<path d="M733 451L1369 451" fill="none" stroke="#b0b0b0" stroke-width="1.11" stroke-linecap="square" stroke-linejoin="round"/>
<g><use href="#m7" x="733" y="451"/></g>
<text x="701.38" y="455.21" font-size="13.89" fill="#000000">0.8</text>
<path d="M733 407L1369 407" fill="none" stroke="#b0b0b0" stroke-width="1.11" stroke-linecap="square" stroke-linejoin="round"/>
<g><use href="#m7" x="733" y="407"/></g>
<text x="701.38" y="412.42" font-size="13.89" fill="#000000">0.9</text>
<path d="M761.95 626.7L767.78 612.04L773.61 598.24L779.44 585.25L785.27 573.03L791.1 561.52L796.93 550.69L802.76 540.49L808.59 530.89L814.42 521.86L820.25 513.36L826.08 505.35L831.9 497.82L837.73 490.73L843.56 484.05L849.39 477.77L855.22 471.85L861.05 466.28L866.88 461.04L872.71 456.11L878.54 451.46L884.37 447.09L890.2 442.98L896.03 439.11L901.86 435.46L907.68 432.03L913.51 428.8L919.34 425.76L925.17 422.9L931 420.2L936.83 417.67L942.66 415.28L948.49 413.03L954.32 410.92L960.15 408.93L965.98 407.05L971.81 405.29L977.63 403.63L983.46 402.07L989.29 400.59L995.12 399.21L1000.95 397.91L1006.78 396.68L1012.61 395.52L1018.44 394.44L1024.27 393.41L1030.1 392.45L1035.93 391.54L1041.76 390.69L1047.59 389.89L1053.41 389.13L1059.24 388.42L1065.07 387.75L1070.9 387.12L1076.73 386.53L1082.56 385.97L1088.39 385.44L1094.22 384.95L1100.05 384.48L1105.88 384.04L1111.71 383.63L1117.54 383.24L1123.37 382.87L1129.19 382.53L1135.02 382.2L1140.85 381.9L1146.68 381.61L1152.51 381.34L1158.34 381.09L1164.17 380.85L1170 380.62L1175.83 380.41L1181.66 380.21L1187.49 380.02L1193.32 379.85L1199.14 379.68L1204.97 379.52L1210.8 379.37L1216.63 379.24L1222.46 379.1L1228.29 378.98L1234.12 378.87L1239.95 378.76L1245.78 378.65L1251.61 378.56L1257.44 378.47L1263.27 378.38L1269.1 378.3L1274.92 378.22L1280.75 378.15L1286.58 378.09L1292.41 378.02L1298.24 377.96L1304.07 377.91L1309.9 377.85L1315.73 377.8L1321.56 377.76L1327.39 377.71L1333.22 377.67L1339.05 377.63" fill="none" stroke="#0000ff" stroke-width="2.08" stroke-linecap="square" stroke-linejoin="round"/>
<g><use href="#m13" x="762.5" y="627.5"/><use href="#m13" x="768.5" y="612.5"/><use href="#m13" x="774.5" y="598.5"/><use href="#m13" x="779.5" y="585.5"/><use href="#m13" x="785.5" y="573.5"/><use href="#m13" x="791.5" y="562.5"/><use href="#m13" x="797.5" y="551.5"/><use href="#m13" x="803.5" y="540.5"/><use href="#m13" x="809.5" y="531.5"/><use href="#m13" x="814.5" y="522.5"/><use href="#m13" x="820.5" y="513.5"/><use href="#m13" x="826.5" y="505.5"/><use href="#m13" x="832.5" y="498.5"/><use href="#m13" x="838.5" y="491.5"/><use href="#m13" x="844.5" y="484.5"/><use href="#m13" x="849.5" y="478.5"/><use href="#m13" x="855.5" y="472.5"/><use href="#m13" x="861.5" y="466.5"/><use href="#m13" x="867.5" y="461.5"/><use href="#m13" x="873.5" y="456.5"/><use href="#m13" x="879.5" y="451.5"/><use href="#m13" x="884.5" y="447.5"/><use href="#m13" x="890.5" y="443.5"/><use href="#m13" x="896.5" y="439.5"/><use href="#m13" x="902.5" y="435.5"/><use href="#m13" x="908.5" y="432.5"/><use href="#m13" x="914.5" y="429.5"/><use href="#m13" x="919.5" y="426.5"/><use href="#m13" x="925.5" y="423.5"/><use href="#m13" x="931.5" y="420.5"/><use href="#m13" x="937.5" y="418.5"/><use href="#m13" x="943.5" y="415.5"/><use href="#m13" x="948.5" y="413.5"/><use href="#m13" x="954.5" y="411.5"/><use href="#m13" x="960.5" y="409.5"/><use href="#m13" x="966.5" y="407.5"/><use href="#m13" x="972.5" y="405.5"/><use href="#m13" x="978.5" y="404.5"/><use href="#m13" x="983.5" y="402.5"/><use href="#m13" x="989.5" y="401.5"/><use href="#m13" x="995.5" y="399.5"/><use href="#m13" x="1001.5" y="398.5"/><use href="#m13" x="1007.5" y="397.5"/><use href="#m13" x="1013.5" y="396.5"/><use href="#m13" x="1018.5" y="394.5"/><use href="#m13" x="1024.5" y="393.5"/><use href="#m13" x="1030.5" y="392.5"/><use href="#m13" x="1036.5" y="392.5"/><use href="#m13" x="1042.5" y="391.5"/><use href="#m13" x="1048.5" y="390.5"/><use href="#m13" x="1053.5" y="389.5"/><use href="#m13" x="1059.5" y="388.5"/><use href="#m13" x="1065.5" y="388.5"/><use href="#m13" x="1071.5" y="387.5"/><use href="#m13" x="1077.5" y="387.5"/><use href="#m13" x="1083.5" y="386.5"/><use href="#m13" x="1088.5" y="385.5"/><use href="#m13" x="1094.5" y="385.5"/><use href="#m13" x="1100.5" y="384.5"/><use href="#m13" x="1106.5" y="384.5"/><use href="#m13" x="1112.5" y="384.5"/><use href="#m13" x="1118.5" y="383.5"/><use href="#m13" x="1123.5" y="383.5"/><use href="#m13" x="1129.5" y="383.5"/><use href="#m13" x="1135.5" y="382.5"/><use href="#m13" x="1141.5" y="382.5"/><use href="#m13" x="1147.5" y="382.5"/><use href="#m13" x="1153.5" y="381.5"/><use href="#m13" x="1158.5" y="381.5"/><use href="#m13" x="1164.5" y="381.5"/><use href="#m13" x="1170.5" y="381.5"/><use href="#m13" x="1176.5" y="380.5"/><use href="#m13" x="1182.5" y="380.5"/><use href="#m13" x="1187.5" y="380.5"/><use href="#m13" x="1193.5" y="380.5"/><use href="#m13" x="1199.5" y="380.5"/><use href="#m13" x="1205.5" y="380.5"/><use href="#m13" x="1211.5" y="379.5"/><use href="#m13" x="1217.5" y="379.5"/><use href="#m13" x="1222.5" y="379.5"/><use href="#m13" x="1228.5" y="379.5"/><use href="#m13" x="1234.5" y="379.5"/><use href="#m13" x="1240.5" y="379.5"/><use href="#m13" x="1246.5" y="379.5"/><use href="#m13" x="1252.5" y="379.5"/><use href="#m13" x="1257.5" y="378.5"/><use href="#m13" x="1263.5" y="378.5"/><use href="#m13" x="1269.5" y="378.5"/><use href="#m13" x="1275.5" y="378.5"/><use href="#m13" x="1281.5" y="378.5"/><use href="#m13" x="1287.5" y="378.5"/><use href="#m13" x="1292.5" y="378.5"/><use href="#m13" x="1298.5" y="378.5"/><use href="#m13" x="1304.5" y="378.5"/><use href="#m13" x="1310.5" y="378.5"/><use href="#m13" x="1316.5" y="378.5"/><use href="#m13" x="1322.5" y="378.5"/><use href="#m13" x="1327.5" y="378.5"/><use href="#m13" x="1333.5" y="378.5"/><use href="#m13" x="1339.5" y="378.5"/></g>
<path d="M761.95 635.09L767.78 619.88L773.61 605.57L779.44 592.11L785.27 579.46L791.1 567.55L796.93 556.35L802.76 545.82L808.59 535.91L814.42 526.58L820.25 517.82L826.08 509.57L831.9 501.81L837.73 494.51L843.56 487.65L849.39 481.19L855.22 475.12L861.05 469.41L866.88 464.03L872.71 458.98L878.54 454.23L884.37 449.75L890.2 445.55L896.03 441.59L901.86 437.87L907.68 434.37L913.51 431.07L919.34 427.97L925.17 425.06L931 422.32L936.83 419.74L942.66 417.32L948.49 415.04L954.32 412.89L960.15 410.87L965.98 408.97L971.81 407.19L977.63 405.51L983.46 403.93L989.29 402.44L995.12 401.04L1000.95 399.73L1006.78 398.49L1012.61 397.33L1018.44 396.23L1024.27 395.2L1030.1 394.23L1035.93 393.32L1041.76 392.47L1047.59 391.66L1053.41 390.9L1059.24 390.19L1065.07 389.52L1070.9 388.89L1076.73 388.29L1082.56 387.74L1088.39 387.21L1094.22 386.72L1100.05 386.25L1105.88 385.82L1111.71 385.4L1117.54 385.02L1123.37 384.65L1129.19 384.31L1135.02 383.99L1140.85 383.69L1146.68 383.4L1152.51 383.13L1158.34 382.88L1164.17 382.65L1170 382.42L1175.83 382.21L1181.66 382.02L1187.49 381.83L1193.32 381.66L1199.14 381.49L1204.97 381.34L1210.8 381.19L1216.63 381.05L1222.46 380.93L1228.29 380.81L1234.12 380.69L1239.95 380.58L1245.78 380.48L1251.61 380.39L1257.44 380.3L1263.27 380.22L1269.1 380.14L1274.92 380.06L1280.75 379.99L1286.58 379.93L1292.41 379.87L1298.24 379.81L1304.07 379.75L1309.9 379.7L1315.73 379.65L1321.56 379.61L1327.39 379.57L1333.22 379.53L1339.05 379.49" fill="none" stroke="#ffa500" stroke-width="2.08" stroke-linecap="square" stroke-linejoin="round"/>
<g><use href="#m14" x="762.5" y="635.5"/><use href="#m14" x="768.5" y="620.5"/><use href="#m14" x="774.5" y="606.5"/><use href="#m14" x="779.5" y="592.5"/><use href="#m14" x="785.5" y="579.5"/><use href="#m14" x="791.5" y="568.5"/><use href="#m14" x="797.5" y="556.5"/><use href="#m14" x="803.5" y="546.5"/><use href="#m14" x="809.5" y="536.5"/><use href="#m14" x="814.5" y="527.5"/><use href="#m14" x="820.5" y="518.5"/><use href="#m14" x="826.5" y="510.5"/><use href="#m14" x="832.5" y="502.5"/><use href="#m14" x="838.5" y="495.5"/><use href="#m14" x="844.5" y="488.5"/><use href="#m14" x="849.5" y="481.5"/><use href="#m14" x="855.5" y="475.5"/><use href="#m14" x="861.5" y="469.5"/><use href="#m14" x="867.5" y="464.5"/><use href="#m14" x="873.5" y="459.5"/><use href="#m14" x="879.5" y="454.5"/><use href="#m14" x="884.5" y="450.5"/><use href="#m14" x="890.5" y="446.5"/><use href="#m14" x="896.5" y="442.5"/><use href="#m14" x="902.5" y="438.5"/><use href="#m14" x="908.5" y="434.5"/><use href="#m14" x="914.5" y="431.5"/><use href="#m14" x="919.5" y="428.5"/><use href="#m14" x="925.5" y="425.5"/><use href="#m14" x="931.5" y="422.5"/><use href="#m14" x="937.5" y="420.5"/><use href="#m14" x="943.5" y="417.5"/><use href="#m14" x="948.5" y="415.5"/><use href="#m14" x="954.5" y="413.5"/><use href="#m14" x="960.5" y="411.5"/><use href="#m14" x="966.5" y="409.5"/><use href="#m14" x="972.5" y="407.5"/><use href="#m14" x="978.5" y="406.5"/><use href="#m14" x="983.5" y="404.5"/><use href="#m14" x="989.5" y="402.5"/><use href="#m14" x="995.5" y="401.5"/><use href="#m14" x="1001.5" y="400.5"/><use href="#m14" x="1007.5" y="398.5"/><use href="#m14" x="1013.5" y="397.5"/><use href="#m14" x="1018.5" y="396.5"/><use href="#m14" x="1024.5" y="395.5"/><use href="#m14" x="1030.5" y="394.5"/><use href="#m14" x="1036.5" y="393.5"/><use href="#m14" x="1042.5" y="392.5"/><use href="#m14" x="1048.5" y="392.5"/><use href="#m14" x="1053.5" y="391.5"/><use href="#m14" x="1059.5" y="390.5"/><use href="#m14" x="1065.5" y="390.5"/><use href="#m14" x="1071.5" y="389.5"/><use href="#m14" x="1077.5" y="388.5"/><use href="#m14" x="1083.5" y="388.5"/><use href="#m14" x="1088.5" y="387.5"/><use href="#m14" x="1094.5" y="387.5"/><use href="#m14" x="1100.5" y="386.5"/><use href="#m14" x="1106.5" y="386.5"/><use href="#m14" x="1112.5" y="385.5"/><use href="#m14" x="1118.5" y="385.5"/><use href="#m14" x="1123.5" y="385.5"/><use href="#m14" x="1129.5" y="384.5"/><use href="#m14" x="1135.5" y="384.5"/><use href="#m14" x="1141.5" y="384.5"/><use href="#m14" x="1147.5" y="383.5"/><use href="#m14" x="1153.5" y="383.5"/><use href="#m14" x="1158.5" y="383.5"/><use href="#m14" x="1164.5" y="383.5"/><use href="#m14" x="1170.5" y="382.5"/><use href="#m14" x="1176.5" y="382.5"/><use href="#m14" x="1182.5" y="382.5"/><use href="#m14" x="1187.5" y="382.5"/><use href="#m14" x="1193.5" y="382.5"/><use href="#m14" x="1199.5" y="381.5"/><use href="#m14" x="1205.5" y="381.5"/><use href="#m14" x="1211.5" y="381.5"/><use href="#m14" x="1217.5" y="381.5"/><use href="#m14" x="1222.5" y="381.5"/><use href="#m14" x="1228.5" y="381.5"/><use href="#m14" x="1234.5" y="381.5"/><use href="#m14" x="1240.5" y="381.5"/><use href="#m14" x="1246.5" y="380.5"/><use href="#m14" x="1252.5" y="380.5"/><use href="#m14" x="1257.5" y="380.5"/><use href="#m14" x="1263.5" y="380.5"/><use href="#m14" x="1269.5" y="380.5"/><use href="#m14" x="1275.5" y="380.5"/><use href="#m14" x="1281.5" y="380.5"/><use href="#m14" x="1287.5" y="380.5"/><use href="#m14" x="1292.5" y="380.5"/><use href="#m14" x="1298.5" y="380.5"/><use href="#m14" x="1304.5" y="380.5"/><use href="#m14" x="1310.5" y="380.5"/><use href="#m14" x="1316.5" y="380.5"/><use href="#m14" x="1322.5" y="380.5"/><use href="#m14" x="1327.5" y="380.5"/><use href="#m14" x="1333.5" y="380.5"/><use href="#m14" x="1339.5" y="379.5"/></g>
<path d="M733 648L733 365" fill="none" stroke="#000000" stroke-width="1.11" stroke-linecap="square"/>
<path d="M1369 648L1369 365" fill="none" stroke="#000000" stroke-width="1.11" stroke-linecap="square"/>
<path d="M733 648L1369 648" fill="none" stroke="#000000" stroke-width="1.11" stroke-linecap="square"/>
<path d="M733 365L1369 365" fill="none" stroke="#000000" stroke-width="1.11" stroke-linecap="square"/>
<text x="982.06" y="357.93" font-size="16.67" fill="#000000">MFF-DRN - MFPT</text>
<rect x="740.5" y="372.5" width="118" height="46" rx="2.78" fill="#ffffff" fill-opacity="0.8" stroke="#cccccc" stroke-width="1.39" stroke-opacity="0.8"/>
<path d="M746 383L759 383L773 383" fill="none" stroke="#0000ff" stroke-width="2.08" stroke-linecap="square" stroke-linejoin="round"/>
<g><use href="#m13" x="759.5" y="383.5"/></g>
<text x="784.49" y="388.26" font-size="13.89" fill="#000000" textLength="32.56" lengthAdjust="spacingAndGlyphs">Train</text>
<path d="M746 404L759 404L773 404" fill="none" stroke="#ffa500" stroke-width="2.08" stroke-linecap="square" stroke-linejoin="round"/>
<g><use href="#m14" x="759.5" y="404.5"/></g>
<text x="784.49" y="409.2" font-size="13.89" fill="#000000" textLength="66.95" lengthAdjust="spacingAndGlyphs">Validation</text>
<path d="M75 993L75 709" fill="none" stroke="#b0b0b0" stroke-width="1.11" stroke-linecap="square" stroke-linejoin="round"/>
<g><use href="#m1" x="75" y="993"/></g>
<text x="70.51" y="1012.26" font-size="13.89" fill="#000000">0</text>
<path d="M191 993L191 709" fill="none" stroke="#b0b0b0" stroke-width="1.11" stroke-linecap="square" stroke-linejoin="round"/>
<g><use href="#m1" x="191" y="993"/></g>
<text x="182.72" y="1012.26" font-size="13.89" fill="#000000">20</text>
<path d="M309 993L309 709" fill="none" stroke="#b0b0b0" stroke-width="1.11" stroke-linecap="square" stroke-linejoin="round"/>
<g><use href="#m1" x="309" y="993"/></g>
<text x="299.3" y="1012.26" font-size="13.89" fill="#000000">40</text>
<path d="M425 993L425 709" fill="none" stroke="#b0b0b0" stroke-width="1.11" stroke-linecap="square" stroke-linejoin="round"/>
<g><use href="#m1" x="425" y="993"/></g>
<text x="415.82" y="1012.26" font-size="13.89" fill="#000000">60</text>
<path d="M541 993L541 709" fill="none" stroke="#b0b0b0" stroke-width="1.11" stroke-linecap="square" stroke-linejoin="round"/>
<g><use href="#m1" x="541" y="993"/></g>
<text x="532.41" y="1012.26" font-size="13.89" fill="#000000">80</text>
<path d="M659 993L659 709" fill="none" stroke="#b0b0b0" stroke-width="1.11" stroke-linecap="square" stroke-linejoin="round"/>
<g><use href="#m1" x="659" y="993"/></g>
<text x="644.62" y="1012.26" font-size="13.89" fill="#000000">100</text>
<text x="348.01" y="1031.82" font-size="13.89" fill="#000000">Epoch</text>
<path d="M53 983L687 983" fill="none" stroke="#b0b0b0" stroke-width="1.11" stroke-linecap="square" stroke-linejoin="round"/>
<g><use href="#m7" x="53" y="983"/></g>
<text x="20.26" y="988.65" font-size="13.89" fill="#000000">0.3</text>
<path d="M53 945L687 945" fill="none" stroke="#b0b0b0" stroke-width="1.11" stroke-linecap="square" stroke-linejoin="round"/>
<g><use href="#m7" x="53" y="945"/></g>
<text x="20.26" y="949.76" font-size="13.89" fill="#000000">0.4</text>
<path d="M53 905L687 905" fill="none" stroke="#b0b0b0" stroke-width="1.11" stroke-linecap="square" stroke-linejoin="round"/>
<g><use href="#m7" x="53" y="905"/></g>
<text x="20.26" y="910.87" font-size="13.89" fill="#000000">0.5</text>
<path d="M53 867L687 867" fill="none" stroke="#b0b0b0" stroke-width="1.11" stroke-linecap="square" stroke-linejoin="round"/>
<g><use href="#m7" x="53" y="867"/></g>
<text x="20.14" y="871.98" font-size="13.89" fill="#000000">0.6</text>
<path d="M53 829L687 829" fill="none" stroke="#b0b0b0" stroke-width="1.11" stroke-linecap="square" stroke-linejoin="round"/>
<g><use href="#m7" x="53" y="829"/></g>
<text x="20.26" y="833.09" font-size="13.89" fill="#000000">0.7</text>
<path d="M53 789L687 789" fill="none" stroke="#b0b0b0" stroke-width="1.11" stroke-linecap="square" stroke-linejoin="round"/>
<g><use href="#m7" x="53" y="789"/></g>
<text x="20.14" y="794.2" font-size="13.89" fill="#000000">0.8</text>
<path d="M53 751L687 751" fill="none" stroke="#b0b0b0" stroke-width="1.11" stroke-linecap="square" stroke-linejoin="round"/>
<g><use href="#m7" x="53" y="751"/></g>
<text x="20.14" y="755.31" font-size="13.89" fill="#000000">0.9</text>
<path d="M53 711L687 711" fill="none" stroke="#b0b0b0" stroke-width="1.11" stroke-linecap="square" stroke-linejoin="round"/>
<g><use href="#m7" x="53" y="711"/></g>
<text x="20.14" y="716.42" font-size="13.89" fill="#000000">1.0</text>
<text x="11.58" y="881.79" font-size="13.89" fill="#000000" transform="rotate(-90 11.58 881.79)">Accuracy</text>
<path d="M80.71 970.3L86.54 958.07L92.37 946.44L98.2 935.38L104.03 924.86L109.86 914.85L115.69 905.33L121.52 896.27L127.35 887.66L133.18 879.46L139.01 871.67L144.84 864.25L150.66 857.2L156.49 850.49L162.32 844.11L168.15 838.04L173.98 832.26L179.81 826.77L185.64 821.54L191.47 816.57L197.3 811.84L203.13 807.35L208.96 803.07L214.79 799L220.62 795.13L226.44 791.45L232.27 787.94L238.1 784.61L243.93 781.44L249.76 778.43L255.59 775.56L261.42 772.83L267.25 770.24L273.08 767.77L278.91 765.42L284.74 763.19L290.57 761.06L296.39 759.04L302.22 757.12L308.05 755.29L313.88 753.55L319.71 751.9L325.54 750.32L331.37 748.83L337.2 747.4L343.03 746.05L348.86 744.76L354.69 743.53L360.52 742.37L366.35 741.26L372.17 740.2L378 739.2L383.83 738.25L389.66 737.34L395.49 736.47L401.32 735.65L407.15 734.87L412.98 734.13L418.81 733.42L424.64 732.75L430.47 732.11L436.3 731.5L442.13 730.92L447.95 730.37L453.78 729.85L459.61 729.35L465.44 728.87L471.27 728.42L477.1 727.99L482.93 727.59L488.76 727.2L494.59 726.83L500.42 726.48L506.25 726.14L512.08 725.83L517.9 725.52L523.73 725.24L529.56 724.96L535.39 724.7L541.22 724.45L547.05 724.22L552.88 724L558.71 723.78L564.54 723.58L570.37 723.39L576.2 723.2L582.03 723.03L587.86 722.86L593.68 722.71L599.51 722.56L605.34 722.41L611.17 722.28L617 722.15L622.83 722.02L628.66 721.91L634.49 721.8L640.32 721.69L646.15 721.59L651.98 721.49L657.81 721.4" fill="none" stroke="#0000ff" stroke-width="2.08" stroke-linecap="square" stroke-linejoin="round"/>
<g><use href="#m13" x="81.5" y="970.5"/><use href="#m13" x="87.5" y="958.5"/><use href="#m13" x="92.5" y="946.5"/><use href="#m13" x="98.5" y="935.5"/><use href="#m13" x="104.5" y="925.5"/><use href="#m13" x="110.5" y="915.5"/><use href="#m13" x="116.5" y="905.5"/><use href="#m13" x="122.5" y="896.5"/><use href="#m13" x="127.5" y="888.5"/><use href="#m13" x="133.5" y="879.5"/><use href="#m13" x="139.5" y="872.5"/><use href="#m13" x="145.5" y="864.5"/><use href="#m13" x="151.5" y="857.5"/><use href="#m13" x="156.5" y="850.5"/><use href="#m13" x="162.5" y="844.5"/><use href="#m13" x="168.5" y="838.5"/><use href="#m13" x="174.5" y="832.5"/><use href="#m13" x="180.5" y="827.5"/><use href="#m13" x="186.5" y="822.5"/><use href="#m13" x="191.5" y="817.5"/><use href="#m13" x="197.5" y="812.5"/><use href="#m13" x="203.5" y="807.5"/><use href="#m13" x="209.5" y="803.5"/><use href="#m13" x="215.5" y="799.5"/><use href="#m13" x="221.5" y="795.5"/><use href="#m13" x="226.5" y="791.5"/><use href="#m13" x="232.5" y="788.5"/><use href="#m13" x="238.5" y="785.5"/><use href="#m13" x="244.5" y="781.5"/><use href="#m13" x="250.5" y="778.5"/><use href="#m13" x="256.5" y="776.5"/><use href="#m13" x="261.5" y="773.5"/><use href="#m13" x="267.5" y="770.5"/><use href="#m13" x="273.5" y="768.5"/><use href="#m13" x="279.5" y="765.5"/><use href="#m13" x="285.5" y="763.5"/><use href="#m13" x="291.5" y="761.5"/><use href="#m13" x="296.5" y="759.5"/><use href="#m13" x="302.5" y="757.5"/><use href="#m13" x="308.5" y="755.5"/><use href="#m13" x="314.5" y="754.5"/><use href="#m13" x="320.5" y="752.5"/><use href="#m13" x="326.5" y="750.5"/><use href="#m13" x="331.5" y="749.5"/><use href="#m13" x="337.5" y="747.5"/><use href="#m13" x="343.5" y="746.5"/><use href="#m13" x="349.5" y="745.5"/><use href="#m13" x="355.5" y="744.5"/><use href="#m13" x="361.5" y="742.5"/><use href="#m13" x="366.5" y="741.5"/><use href="#m13" x="372.5" y="740.5"/><use href="#m13" x="378.5" y="739.5"/><use href="#m13" x="384.5" y="738.5"/><use href="#m13" x="390.5" y="737.5"/><use href="#m13" x="395.5" y="736.5"/><use href="#m13" x="401.5" y="736.5"/><use href="#m13" x="407.5" y="735.5"/><use href="#m13" x="413.5" y="734.5"/><use href="#m13" x="419.5" y="733.5"/><use href="#m13" x="425.5" y="733.5"/><use href="#m13" x="430.5" y="732.5"/><use href="#m13" x="436.5" y="731.5"/><use href="#m13" x="442.5" y="731.5"/><use href="#m13" x="448.5" y="730.5"/><use href="#m13" x="454.5" y="730.5"/><use href="#m13" x="460.5" y="729.5"/><use href="#m13" x="465.5" y="729.5"/><use href="#m13" x="471.5" y="728.5"/><use href="#m13" x="477.5" y="728.5"/><use href="#m13" x="483.5" y="728.5"/><use href="#m13" x="489.5" y="727.5"/><use href="#m13" x="495.5" y="727.5"/><use href="#m13" x="500.5" y="726.5"/><use href="#m13" x="506.5" y="726.5"/><use href="#m13" x="512.5" y="726.5"/><use href="#m13" x="518.5" y="726.5"/><use href="#m13" x="524.5" y="725.5"/><use href="#m13" x="530.5" y="725.5"/><use href="#m13" x="535.5" y="725.5"/><use href="#m13" x="541.5" y="724.5"/><use href="#m13" x="547.5" y="724.5"/><use href="#m13" x="553.5" y="724.5"/><use href="#m13" x="559.5" y="724.5"/><use href="#m13" x="565.5" y="724.5"/><use href="#m13" x="570.5" y="723.5"/><use href="#m13" x="576.5" y="723.5"/><use href="#m13" x="582.5" y="723.5"/><use href="#m13" x="588.5" y="723.5"/><use href="#m13" x="594.5" y="723.5"/><use href="#m13" x="600.5" y="723.5"/><use href="#m13" x="605.5" y="722.5"/><use href="#m13" x="611.5" y="722.5"/><use href="#m13" x="617.5" y="722.5"/><use href="#m13" x="623.5" y="722.5"/><use href="#m13" x="629.5" y="722.5"/><use href="#m13" x="634.5" y="722.5"/><use href="#m13" x="640.5" y="722.5"/><use href="#m13" x="646.5" y="722.5"/><use href="#m13" x="652.5" y="721.5"/><use href="#m13" x="658.5" y="721.5"/></g>
<path d="M80.71 978.68L86.54 966.28L92.37 954.49L98.2 943.28L104.03 932.61L109.86 922.46L115.69 912.81L121.52 903.62L127.35 894.89L133.18 886.58L139.01 878.68L144.84 871.16L150.66 864.01L156.49 857.21L162.32 850.73L168.15 844.58L173.98 838.72L179.81 833.15L185.64 827.86L191.47 822.82L197.3 818.02L203.13 813.46L208.96 809.13L214.79 805L220.62 801.08L226.44 797.34L232.27 793.79L238.1 790.41L243.93 787.2L249.76 784.14L255.59 781.24L261.42 778.47L267.25 775.84L273.08 773.34L278.91 770.96L284.74 768.69L290.57 766.54L296.39 764.49L302.22 762.54L308.05 760.69L313.88 758.92L319.71 757.25L325.54 755.65L331.37 754.13L337.2 752.69L343.03 751.32L348.86 750.01L354.69 748.77L360.52 747.58L366.35 746.46L372.17 745.39L378 744.37L383.83 743.4L389.66 742.48L395.49 741.61L401.32 740.78L407.15 739.98L412.98 739.23L418.81 738.51L424.64 737.83L430.47 737.18L436.3 736.56L442.13 735.98L447.95 735.42L453.78 734.89L459.61 734.38L465.44 733.9L471.27 733.44L477.1 733.01L482.93 732.6L488.76 732.2L494.59 731.83L500.42 731.47L506.25 731.13L512.08 730.81L517.9 730.51L523.73 730.21L529.56 729.94L535.39 729.67L541.22 729.42L547.05 729.18L552.88 728.96L558.71 728.74L564.54 728.53L570.37 728.34L576.2 728.15L582.03 727.98L587.86 727.81L593.68 727.65L599.51 727.5L605.34 727.35L611.17 727.21L617 727.08L622.83 726.96L628.66 726.84L634.49 726.73L640.32 726.62L646.15 726.52L651.98 726.42L657.81 726.33" fill="none" stroke="#ffa500" stroke-width="2.08" stroke-linecap="square" stroke-linejoin="round"/>
<g><use href="#m14" x="81.5" y="979.5"/><use href="#m14" x="87.5" y="966.5"/><use href="#m14" x="92.5" y="954.5"/><use href="#m14" x="98.5" y="943.5"/><use href="#m14" x="104.5" y="933.5"/><use href="#m14" x="110.5" y="922.5"/><use href="#m14" x="116.5" y="913.5"/><use href="#m14" x="122.5" y="904.5"/><use href="#m14" x="127.5" y="895.5"/><use href="#m14" x="133.5" y="887.5"/><use href="#m14" x="139.5" y="879.5"/><use href="#m14" x="145.5" y="871.5"/><use href="#m14" x="151.5" y="864.5"/><use href="#m14" x="156.5" y="857.5"/><use href="#m14" x="162.5" y="851.5"/><use href="#m14" x="168.5" y="845.5"/><use href="#m14" x="174.5" y="839.5"/><use href="#m14" x="180.5" y="833.5"/><use href="#m14" x="186.5" y="828.5"/><use href="#m14" x="191.5" y="823.5"/><use href="#m14" x="197.5" y="818.5"/><use href="#m14" x="203.5" y="813.5"/><use href="#m14" x="209.5" y="809.5"/><use href="#m14" x="215.5" y="805.5"/><use href="#m14" x="221.5" y="801.5"/><use href="#m14" x="226.5" y="797.5"/><use href="#m14" x="232.5" y="794.5"/><use href="#m14" x="238.5" y="790.5"/><use href="#m14" x="244.5" y="787.5"/><use href="#m14" x="250.5" y="784.5"/><use href="#m14" x="256.5" y="781.5"/><use href="#m14" x="261.5" y="778.5"/><use href="#m14" x="267.5" y="776.5"/><use href="#m14" x="273.5" y="773.5"/><use href="#m14" x="279.5" y="771.5"/><use href="#m14" x="285.5" y="769.5"/><use href="#m14" x="291.5" y="767.5"/><use href="#m14" x="296.5" y="764.5"/><use href="#m14" x="302.5" y="763.5"/><use href="#m14" x="308.5" y="761.5"/><use href="#m14" x="314.5" y="759.5"/><use href="#m14" x="320.5" y="757.5"/><use href="#m14" x="326.5" y="756.5"/><use href="#m14" x="331.5" y="754.5"/><use href="#m14" x="337.5" y="753.5"/><use href="#m14" x="343.5" y="751.5"/><use href="#m14" x="349.5" y="750.5"/><use href="#m14" x="355.5" y="749.5"/><use href="#m14" x="361.5" y="748.5"/><use href="#m14" x="366.5" y="746.5"/><use href="#m14" x="372.5" y="745.5"/><use href="#m14" x="378.5" y="744.5"/><use href="#m14" x="384.5" y="743.5"/><use href="#m14" x="390.5" y="742.5"/><use href="#m14" x="395.5" y="742.5"/><use href="#m14" x="401.5" y="741.5"/><use href="#m14" x="407.5" y="740.5"/><use href="#m14" x="413.5" y="739.5"/><use href="#m14" x="419.5" y="739.5"/><use href="#m14" x="425.5" y="738.5"/><use href="#m14" x="430.5" y="737.5"/><use href="#m14" x="436.5" y="737.5"/><use href="#m14" x="442.5" y="736.5"/><use href="#m14" x="448.5" y="735.5"/><use href="#m14" x="454.5" y="735.5"/><use href="#m14" x="460.5" y="734.5"/><use href="#m14" x="465.5" y="734.5"/><use href="#m14" x="471.5" y="733.5"/><use href="#m14" x="477.5" y="733.5"/><use href="#m14" x="483.5" y="733.5"/><use href="#m14" x="489.5" y="732.5"/><use href="#m14" x="495.5" y="732.5"/><use href="#m14" x="500.5" y="731.5"/><use href="#m14" x="506.5" y="731.5"/><use href="#m14" x="512.5" y="731.5"/><use href="#m14" x="518.5" y="731.5"/><use href="#m14" x="524.5" y="730.5"/><use href="#m14" x="530.5" y="730.5"/><use href="#m14" x="535.5" y="730.5"/><use href="#m14" x="541.5" y="729.5"/><use href="#m14" x="547.5" y="729.5"/><use href="#m14" x="553.5" y="729.5"/><use href="#m14" x="559.5" y="729.5"/><use href="#m14" x="565.5" y="729.5"/><use href="#m14" x="570.5" y="728.5"/><use href="#m14" x="576.5" y="728.5"/><use href="#m14" x="582.5" y="728.5"/><use href="#m14" x="588.5" y="728.5"/><use href="#m14" x="594.5" y="728.5"/><use href="#m14" x="600.5" y="727.5"/><use href="#m14" x="605.5" y="727.5"/><use href="#m14" x="611.5" y="727.5"/><use href="#m14" x="617.5" y="727.5"/><use href="#m14" x="623.5" y="727.5"/><use href="#m14" x="629.5" y="727.5"/><use href="#m14" x="634.5" y="727.5"/><use href="#m14" x="640.5" y="727.5"/><use href="#m14" x="646.5" y="727.5"/><use href="#m14" x="652.5" y="726.5"/><use href="#m14" x="658.5" y="726.5"/></g>
<path d="M53 991L53 709" fill="none" stroke="#000000" stroke-width="1.11" stroke-linecap="square"/>
<path d="M687 991L687 709" fill="none" stroke="#000000" stroke-width="1.11" stroke-linecap="square"/>
<path d="M53 991L687 991" fill="none" stroke="#000000" stroke-width="1.11" stroke-linecap="square"/>
<path d="M53 709L687 709" fill="none" stroke="#000000" stroke-width="1.11" stroke-linecap="square"/>
<text x="300.38" y="701.71" font-size="16.67" fill="#000000">CNN - Paderborn</text>
<rect x="59.5" y="715.5" width="117" height="47" rx="2.78" fill="#ffffff" fill-opacity="0.8" stroke="#cccccc" stroke-width="1.39" stroke-opacity="0.8"/>
<path d="M64 727L78 727L92 727" fill="none" stroke="#0000ff" stroke-width="2.08" stroke-linecap="square" stroke-linejoin="round"/>
<g><use href="#m13" x="78.5" y="727.5"/></g>
<text x="103.25" y="732.04" font-size="13.89" fill="#000000" textLength="32.56" lengthAdjust="spacingAndGlyphs">Train</text>
<path d="M64 748L78 748L92 748" fill="none" stroke="#ffa500" stroke-width="2.08" stroke-linecap="square" stroke-linejoin="round"/>
<g><use href="#m14" x="78.5" y="748.5"/></g>
<text x="103.25" y="752.98" font-size="13.89" fill="#000000" textLength="66.95" lengthAdjust="spacingAndGlyphs">Validation</text>
<path d="M757 993L757 709" fill="none" stroke="#b0b0b0" stroke-width="1.11" stroke-linecap="square" stroke-linejoin="round"/>
<g><use href="#m1" x="757" y="993"/></g>
<text x="751.75" y="1012.26" font-size="13.89" fill="#000000">0</text>
<path d="M873 993L873 709" fill="none" stroke="#b0b0b0" stroke-width="1.11" stroke-linecap="square" stroke-linejoin="round"/>
<g><use href="#m1" x="873" y="993"/></g>
<text x="863.96" y="1012.26" font-size="13.89" fill="#000000">20</text>
<path d="M989 993L989 709" fill="none" stroke="#b0b0b0" stroke-width="1.11" stroke-linecap="square" stroke-linejoin="round"/>
<g><use href="#m1" x="989" y="993"/></g>
<text x="980.54" y="1012.26" font-size="13.89" fill="#000000">40</text>
<path d="M1107 993L1107 709" fill="none" stroke="#b0b0b0" stroke-width="1.11" stroke-linecap="square" stroke-linejoin="round"/>
<g><use href="#m1" x="1107" y="993"/></g>
<text x="1097.06" y="1012.26" font-size="13.89" fill="#000000">60</text>
<path d="M1223 993L1223 709" fill="none" stroke="#b0b0b0" stroke-width="1.11" stroke-linecap="square" stroke-linejoin="round"/>
<g><use href="#m1" x="1223" y="993"/></g>
<text x="1213.65" y="1012.26" font-size="13.89" fill="#000000">80</text>
<path d="M1339 993L1339 709" fill="none" stroke="#b0b0b0" stroke-width="1.11" stroke-linecap="square" stroke-linejoin="round"/>
<g><use href="#m1" x="1339" y="993"/></g>
<text x="1325.86" y="1012.26" font-size="13.89" fill="#000000">100</text>
<text x="1029.25" y="1031.82" font-size="13.89" fill="#000000">Epoch</text>
<path d="M733 983L1369 983" fill="none" stroke="#b0b0b0" stroke-width="1.11" stroke-linecap="square" stroke-linejoin="round"/>
<g><use href="#m7" x="733" y="983"/></g>
<text x="701.5" y="988.15" font-size="13.89" fill="#000000">0.3</text>
<path d="M733 943L1369 943" fill="none" stroke="#b0b0b0" stroke-width="1.11" stroke-linecap="square" stroke-linejoin="round"/>
<g><use href="#m7" x="733" y="943"/></g>
<text x="701.5" y="948.18" font-size="13.89" fill="#000000">0.4</text>
<path d="M733 903L1369 903" fill="none" stroke="#b0b0b0" stroke-width="1.11" stroke-linecap="square" stroke-linejoin="round"/>
<g><use href="#m7" x="733" y="903"/></g>
<text x="701.5" y="908.21" font-size="13.89" fill="#000000">0.5</text>
<path d="M733 863L1369 863" fill="none" stroke="#b0b0b0" stroke-width="1.11" stroke-linecap="square" stroke-linejoin="round"/>
<g><use href="#m7" x="733" y="863"/></g>
<text x="701.38" y="868.24" font-size="13.89" fill="#000000">0.6</text>
<path d="M733 823L1369 823" fill="none" stroke="#b0b0b0" stroke-width="1.11" stroke-linecap="square" stroke-linejoin="round"/>
<g><use href="#m7" x="733" y="823"/></g>
<text x="701.5" y="828.26" font-size="13.89" fill="#000000">0.7</text>
<path d="M733 783L1369 783" fill="none" stroke="#b0b0b0" stroke-width="1.11" stroke-linecap="square" stroke-linejoin="round"/>
<g><use href="#m7" x="733" y="783"/></g>
<text x="701.38" y="788.29" font-size="13.89" fill="#000000">0.8</text>
<path d="M733 743L1369 743" fill="none" stroke="#b0b0b0" stroke-width="1.11" stroke-linecap="square" stroke-linejoin="round"/>
<g><use href="#m7" x="733" y="743"/></g>
<text x="701.38" y="748.32" font-size="13.89" fill="#000000">0.9</text>
<path d="M761.95 969.83L767.78 957.62L773.61 946.02L779.44 934.98L785.27 924.47L791.1 914.48L796.93 904.98L802.76 895.94L808.59 887.34L814.42 879.16L820.25 871.38L826.08 863.98L831.9 856.94L837.73 850.24L843.56 843.87L849.39 837.82L855.22 832.05L861.05 826.57L866.88 821.35L872.71 816.39L878.54 811.67L884.37 807.18L890.2 802.91L896.03 798.85L901.86 794.99L907.68 791.31L913.51 787.82L919.34 784.49L925.17 781.33L931 778.32L936.83 775.46L942.66 772.73L948.49 770.14L954.32 767.68L960.15 765.34L965.98 763.11L971.81 760.99L977.63 758.97L983.46 757.05L989.29 755.23L995.12 753.49L1000.95 751.84L1006.78 750.27L1012.61 748.78L1018.44 747.35L1024.27 746L1030.1 744.72L1035.93 743.49L1041.76 742.33L1047.59 741.22L1053.41 740.17L1059.24 739.17L1065.07 738.21L1070.9 737.31L1076.73 736.45L1082.56 735.63L1088.39 734.85L1094.22 734.1L1100.05 733.4L1105.88 732.73L1111.71 732.09L1117.54 731.48L1123.37 730.9L1129.19 730.35L1135.02 729.83L1140.85 729.33L1146.68 728.86L1152.51 728.41L1158.34 727.98L1164.17 727.57L1170 727.19L1175.83 726.82L1181.66 726.47L1187.49 726.13L1193.32 725.82L1199.14 725.52L1204.97 725.23L1210.8 724.96L1216.63 724.7L1222.46 724.45L1228.29 724.21L1234.12 723.99L1239.95 723.78L1245.78 723.58L1251.61 723.38L1257.44 723.2L1263.27 723.03L1269.1 722.86L1274.92 722.7L1280.75 722.55L1286.58 722.41L1292.41 722.28L1298.24 722.15L1304.07 722.02L1309.9 721.91L1315.73 721.8L1321.56 721.69L1327.39 721.59L1333.22 721.49L1339.05 721.4" fill="none" stroke="#0000ff" stroke-width="2.08" stroke-linecap="square" stroke-linejoin="round"/>
<g><use href="#m13" x="762.5" y="970.5"/><use href="#m13" x="768.5" y="958.5"/><use href="#m13" x="774.5" y="946.5"/><use href="#m13" x="779.5" y="935.5"/><use href="#m13" x="785.5" y="924.5"/><use href="#m13" x="791.5" y="914.5"/><use href="#m13" x="797.5" y="905.5"/><use href="#m13" x="803.5" y="896.5"/><use href="#m13" x="809.5" y="887.5"/><use href="#m13" x="814.5" y="879.5"/><use href="#m13" x="820.5" y="871.5"/><use href="#m13" x="826.5" y="864.5"/><use href="#m13" x="832.5" y="857.5"/><use href="#m13" x="838.5" y="850.5"/><use href="#m13" x="844.5" y="844.5"/><use href="#m13" x="849.5" y="838.5"/><use href="#m13" x="855.5" y="832.5"/><use href="#m13" x="861.5" y="827.5"/><use href="#m13" x="867.5" y="821.5"/><use href="#m13" x="873.5" y="816.5"/><use href="#m13" x="879.5" y="812.5"/><use href="#m13" x="884.5" y="807.5"/><use href="#m13" x="890.5" y="803.5"/><use href="#m13" x="896.5" y="799.5"/><use href="#m13" x="902.5" y="795.5"/><use href="#m13" x="908.5" y="791.5"/><use href="#m13" x="914.5" y="788.5"/><use href="#m13" x="919.5" y="784.5"/><use href="#m13" x="925.5" y="781.5"/><use href="#m13" x="931.5" y="778.5"/><use href="#m13" x="937.5" y="775.5"/><use href="#m13" x="943.5" y="773.5"/><use href="#m13" x="948.5" y="770.5"/><use href="#m13" x="954.5" y="768.5"/><use href="#m13" x="960.5" y="765.5"/><use href="#m13" x="966.5" y="763.5"/><use href="#m13" x="972.5" y="761.5"/><use href="#m13" x="978.5" y="759.5"/><use href="#m13" x="983.5" y="757.5"/><use href="#m13" x="989.5" y="755.5"/><use href="#m13" x="995.5" y="753.5"/><use href="#m13" x="1001.5" y="752.5"/><use href="#m13" x="1007.5" y="750.5"/><use href="#m13" x="1013.5" y="749.5"/><use href="#m13" x="1018.5" y="747.5"/><use href="#m13" x="1024.5" y="746.5"/><use href="#m13" x="1030.5" y="745.5"/><use href="#m13" x="1036.5" y="743.5"/><use href="#m13" x="1042.5" y="742.5"/><use href="#m13" x="1048.5" y="741.5"/><use href="#m13" x="1053.5" y="740.5"/><use href="#m13" x="1059.5" y="739.5"/><use href="#m13" x="1065.5" y="738.5"/><use href="#m13" x="1071.5" y="737.5"/><use href="#m13" x="1077.5" y="736.5"/><use href="#m13" x="1083.5" y="736.5"/><use href="#m13" x="1088.5" y="735.5"/><use href="#m13" x="1094.5" y="734.5"/><use href="#m13" x="1100.5" y="733.5"/><use href="#m13" x="1106.5" y="733.5"/><use href="#m13" x="1112.5" y="732.5"/><use href="#m13" x="1118.5" y="731.5"/><use href="#m13" x="1123.5" y="731.5"/><use href="#m13" x="1129.5" y="730.5"/><use href="#m13" x="1135.5" y="730.5"/><use href="#m13" x="1141.5" y="729.5"/><use href="#m13" x="1147.5" y="729.5"/><use href="#m13" x="1153.5" y="728.5"/><use href="#m13" x="1158.5" y="728.5"/><use href="#m13" x="1164.5" y="728.5"/><use href="#m13" x="1170.5" y="727.5"/><use href="#m13" x="1176.5" y="727.5"/><use href="#m13" x="1182.5" y="726.5"/><use href="#m13" x="1187.5" y="726.5"/><use href="#m13" x="1193.5" y="726.5"/><use href="#m13" x="1199.5" y="726.5"/><use href="#m13" x="1205.5" y="725.5"/><use href="#m13" x="1211.5" y="725.5"/><use href="#m13" x="1217.5" y="725.5"/><use href="#m13" x="1222.5" y="724.5"/><use href="#m13" x="1228.5" y="724.5"/><use href="#m13" x="1234.5" y="724.5"/><use href="#m13" x="1240.5" y="724.5"/><use href="#m13" x="1246.5" y="724.5"/><use href="#m13" x="1252.5" y="723.5"/><use href="#m13" x="1257.5" y="723.5"/><use href="#m13" x="1263.5" y="723.5"/><use href="#m13" x="1269.5" y="723.5"/><use href="#m13" x="1275.5" y="723.5"/><use href="#m13" x="1281.5" y="723.5"/><use href="#m13" x="1287.5" y="722.5"/><use href="#m13" x="1292.5" y="722.5"/><use href="#m13" x="1298.5" y="722.5"/><use href="#m13" x="1304.5" y="722.5"/><use href="#m13" x="1310.5" y="722.5"/><use href="#m13" x="1316.5" y="722.5"/><use href="#m13" x="1322.5" y="722.5"/><use href="#m13" x="1327.5" y="722.5"/><use href="#m13" x="1333.5" y="721.5"/><use href="#m13" x="1339.5" y="721.5"/></g>
<path d="M761.95 978.68L767.78 966.08L773.61 954.1L779.44 942.71L785.27 931.88L791.1 921.59L796.93 911.8L802.76 902.49L808.59 893.64L814.42 885.23L820.25 877.23L826.08 869.63L831.9 862.4L837.73 855.53L843.56 848.99L849.39 842.78L855.22 836.87L861.05 831.26L866.88 825.92L872.71 820.84L878.54 816.01L884.37 811.42L890.2 807.06L896.03 802.91L901.86 798.97L907.68 795.22L913.51 791.66L919.34 788.27L925.17 785.04L931 781.98L936.83 779.07L942.66 776.3L948.49 773.66L954.32 771.16L960.15 768.78L965.98 766.52L971.81 764.37L977.63 762.32L983.46 760.38L989.29 758.53L995.12 756.77L1000.95 755.1L1006.78 753.51L1012.61 752L1018.44 750.56L1024.27 749.2L1030.1 747.9L1035.93 746.66L1041.76 745.49L1047.59 744.37L1053.41 743.31L1059.24 742.3L1065.07 741.34L1070.9 740.43L1076.73 739.57L1082.56 738.74L1088.39 737.96L1094.22 737.21L1100.05 736.5L1105.88 735.83L1111.71 735.19L1117.54 734.58L1123.37 734L1129.19 733.45L1135.02 732.93L1140.85 732.43L1146.68 731.96L1152.51 731.51L1158.34 731.08L1164.17 730.68L1170 730.29L1175.83 729.92L1181.66 729.57L1187.49 729.24L1193.32 728.92L1199.14 728.62L1204.97 728.34L1210.8 728.07L1216.63 727.81L1222.46 727.56L1228.29 727.33L1234.12 727.11L1239.95 726.9L1245.78 726.7L1251.61 726.51L1257.44 726.33L1263.27 726.15L1269.1 725.99L1274.92 725.84L1280.75 725.69L1286.58 725.55L1292.41 725.41L1298.24 725.29L1304.07 725.16L1309.9 725.05L1315.73 724.94L1321.56 724.84L1327.39 724.74L1333.22 724.64L1339.05 724.55" fill="none" stroke="#ffa500" stroke-width="2.08" stroke-linecap="square" stroke-linejoin="round"/>
<g><use href="#m14" x="762.5" y="979.5"/><use href="#m14" x="768.5" y="966.5"/><use href="#m14" x="774.5" y="954.5"/><use href="#m14" x="779.5" y="943.5"/><use href="#m14" x="785.5" y="932.5"/><use href="#m14" x="791.5" y="922.5"/><use href="#m14" x="797.5" y="912.5"/><use href="#m14" x="803.5" y="902.5"/><use href="#m14" x="809.5" y="894.5"/><use href="#m14" x="814.5" y="885.5"/><use href="#m14" x="820.5" y="877.5"/><use href="#m14" x="826.5" y="870.5"/><use href="#m14" x="832.5" y="862.5"/><use href="#m14" x="838.5" y="856.5"/><use href="#m14" x="844.5" y="849.5"/><use href="#m14" x="849.5" y="843.5"/><use href="#m14" x="855.5" y="837.5"/><use href="#m14" x="861.5" y="831.5"/><use href="#m14" x="867.5" y="826.5"/><use href="#m14" x="873.5" y="821.5"/><use href="#m14" x="879.5" y="816.5"/><use href="#m14" x="884.5" y="811.5"/><use href="#m14" x="890.5" y="807.5"/><use href="#m14" x="896.5" y="803.5"/><use href="#m14" x="902.5" y="799.5"/><use href="#m14" x="908.5" y="795.5"/><use href="#m14" x="914.5" y="792.5"/><use href="#m14" x="919.5" y="788.5"/><use href="#m14" x="925.5" y="785.5"/><use href="#m14" x="931.5" y="782.5"/><use href="#m14" x="937.5" y="779.5"/><use href="#m14" x="943.5" y="776.5"/><use href="#m14" x="948.5" y="774.5"/><use href="#m14" x="954.5" y="771.5"/><use href="#m14" x="960.5" y="769.5"/><use href="#m14" x="966.5" y="767.5"/><use href="#m14" x="972.5" y="764.5"/><use href="#m14" x="978.5" y="762.5"/><use href="#m14" x="983.5" y="760.5"/><use href="#m14" x="989.5" y="759.5"/><use href="#m14" x="995.5" y="757.5"/><use href="#m14" x="1001.5" y="755.5"/><use href="#m14" x="1007.5" y="754.5"/><use href="#m14" x="1013.5" y="752.5"/><use href="#m14" x="1018.5" y="751.5"/><use href="#m14" x="1024.5" y="749.5"/><use href="#m14" x="1030.5" y="748.5"/><use href="#m14" x="1036.5" y="747.5"/><use href="#m14" x="1042.5" y="745.5"/><use href="#m14" x="1048.5" y="744.5"/><use href="#m14" x="1053.5" y="743.5"/><use href="#m14" x="1059.5" y="742.5"/><use href="#m14" x="1065.5" y="741.5"/><use href="#m14" x="1071.5" y="740.5"/><use href="#m14" x="1077.5" y="740.5"/><use href="#m14" x="1083.5" y="739.5"/><use href="#m14" x="1088.5" y="738.5"/><use href="#m14" x="1094.5" y="737.5"/><use href="#m14" x="1100.5" y="737.5"/><use href="#m14" x="1106.5" y="736.5"/><use href="#m14" x="1112.5" y="735.5"/><use href="#m14" x="1118.5" y="735.5"/><use href="#m14" x="1123.5" y="734.5"/><use href="#m14" x="1129.5" y="733.5"/><use href="#m14" x="1135.5" y="733.5"/><use href="#m14" x="1141.5" y="732.5"/><use href="#m14" x="1147.5" y="732.5"/><use href="#m14" x="1153.5" y="732.5"/><use href="#m14" x="1158.5" y="731.5"/><use href="#m14" x="1164.5" y="731.5"/><use href="#m14" x="1170.5" y="730.5"/><use href="#m14" x="1176.5" y="730.5"/><use href="#m14" x="1182.5" y="730.5"/><use href="#m14" x="1187.5" y="729.5"/><use href="#m14" x="1193.5" y="729.5"/><use href="#m14" x="1199.5" y="729.5"/><use href="#m14" x="1205.5" y="728.5"/><use href="#m14" x="1211.5" y="728.5"/><use href="#m14" x="1217.5" y="728.5"/><use href="#m14" x="1222.5" y="728.5"/><use href="#m14" x="1228.5" y="727.5"/><use href="#m14" x="1234.5" y="727.5"/><use href="#m14" x="1240.5" y="727.5"/><use href="#m14" x="1246.5" y="727.5"/><use href="#m14" x="1252.5" y="727.5"/><use href="#m14" x="1257.5" y="726.5"/><use href="#m14" x="1263.5" y="726.5"/><use href="#m14" x="1269.5" y="726.5"/><use href="#m14" x="1275.5" y="726.5"/><use href="#m14" x="1281.5" y="726.5"/><use href="#m14" x="1287.5" y="726.5"/><use href="#m14" x="1292.5" y="725.5"/><use href="#m14" x="1298.5" y="725.5"/><use href="#m14" x="1304.5" y="725.5"/><use href="#m14" x="1310.5" y="725.5"/><use href="#m14" x="1316.5" y="725.5"/><use href="#m14" x="1322.5" y="725.5"/><use href="#m14" x="1327.5" y="725.5"/><use href="#m14" x="1333.5" y="725.5"/><use href="#m14" x="1339.5" y="725.5"/></g>
<path d="M733 991L733 709" fill="none" stroke="#000000" stroke-width="1.11" stroke-linecap="square"/>
<path d="M1369 991L1369 709" fill="none" stroke="#000000" stroke-width="1.11" stroke-linecap="square"/>
<path d="M733 991L1369 991" fill="none" stroke="#000000" stroke-width="1.11" stroke-linecap="square"/>
<path d="M733 709L1369 709" fill="none" stroke="#000000" stroke-width="1.11" stroke-linecap="square"/>
<text x="1001.94" y="701.71" font-size="16.67" fill="#000000">CNN - MFPT</text>
<rect x="740.5" y="715.5" width="118" height="47" rx="2.78" fill="#ffffff" fill-opacity="0.8" stroke="#cccccc" stroke-width="1.39" stroke-opacity="0.8"/>
<path d="M746 727L759 727L773 727" fill="none" stroke="#0000ff" stroke-width="2.08" stroke-linecap="square" stroke-linejoin="round"/>
<g><use href="#m13" x="759.5" y="727.5"/></g>
<text x="784.49" y="732.04" font-size="13.89" fill="#000000" textLength="32.56" lengthAdjust="spacingAndGlyphs">Train</text>
<path d="M746 748L759 748L773 748" fill="none" stroke="#ffa500" stroke-width="2.08" stroke-linecap="square" stroke-linejoin="round"/>
<g><use href="#m14" x="759.5" y="748.5"/></g>
<text x="784.49" y="752.98" font-size="13.89" fill="#000000" textLength="66.95" lengthAdjust="spacingAndGlyphs">Validation</text>
</svg>
</body></html>
